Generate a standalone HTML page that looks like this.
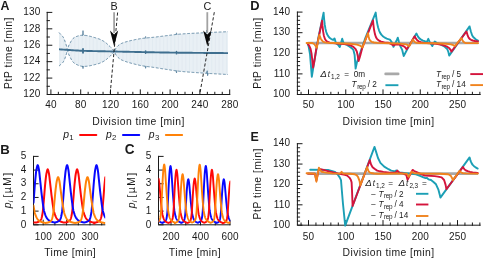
<!DOCTYPE html>
<html><head><meta charset="utf-8"><title>figure</title>
<style>html,body{margin:0;padding:0;background:#fff;overflow:hidden}svg{display:block;will-change:transform;transform:translateZ(0)}text{font-family:"Liberation Sans",sans-serif}</style>
</head><body>
<svg width="483" height="259" viewBox="0 0 483 259">
<rect width="483" height="259" fill="#fff"/>
<path d="M47.2 12.4 L47.2 94.5 L229.7 94.5 M50.9 94.5 v-4.6 M80.7 94.5 v-4.6 M110.5 94.5 v-4.6 M140.3 94.5 v-4.6 M170.1 94.5 v-4.6 M199.9 94.5 v-4.6 M229.7 94.5 v-4.6 M58.35 94.5 v-2.2 M65.8 94.5 v-2.2 M73.25 94.5 v-2.2 M88.15 94.5 v-2.2 M95.6 94.5 v-2.2 M103.05 94.5 v-2.2 M117.95 94.5 v-2.2 M125.4 94.5 v-2.2 M132.85 94.5 v-2.2 M147.75 94.5 v-2.2 M155.2 94.5 v-2.2 M162.65 94.5 v-2.2 M177.55 94.5 v-2.2 M185 94.5 v-2.2 M192.45 94.5 v-2.2 M207.35 94.5 v-2.2 M214.8 94.5 v-2.2 M222.25 94.5 v-2.2 M47.2 94.5 h4.6 M47.2 78.08 h4.6 M47.2 61.66 h4.6 M47.2 45.24 h4.6 M47.2 28.82 h4.6 M47.2 12.4 h4.6 M47.2 86.29 h2.2 M47.2 69.87 h2.2 M47.2 53.45 h2.2 M47.2 37.03 h2.2 M47.2 20.61 h2.2" fill="none" stroke="#1a1a1a" stroke-width="1" stroke-linecap="square"/>
<path d="M33.5 156.4 L33.5 224.8 L104.8 224.8 M43.2 224.8 v-4.6 M66.6 224.8 v-4.6 M90 224.8 v-4.6 M54.9 224.8 v-2.2 M78.3 224.8 v-2.2 M101.7 224.8 v-2.2 M33.5 224.8 h4.6 M33.5 211.12 h4.6 M33.5 197.44 h4.6 M33.5 183.76 h4.6 M33.5 170.08 h4.6 M33.5 156.4 h4.6" fill="none" stroke="#1a1a1a" stroke-width="1" stroke-linecap="square"/>
<path d="M158.5 156.4 L158.5 224.8 L229.9 224.8 M171 224.8 v-4.6 M200.5 224.8 v-4.6 M230 224.8 v-4.6 M185.75 224.8 v-2.2 M215.25 224.8 v-2.2 M158.5 224.8 h4.6 M158.5 211.12 h4.6 M158.5 197.44 h4.6 M158.5 183.76 h4.6 M158.5 170.08 h4.6 M158.5 156.4 h4.6" fill="none" stroke="#1a1a1a" stroke-width="1" stroke-linecap="square"/>
<path d="M297.4 12.1 L297.4 94.5 L480.1 94.5 M308.5 94.5 v-4.6 M345.75 94.5 v-4.6 M383 94.5 v-4.6 M420.25 94.5 v-4.6 M457.5 94.5 v-4.6 M301.05 94.5 v-2.2 M315.95 94.5 v-2.2 M323.4 94.5 v-2.2 M330.85 94.5 v-2.2 M338.3 94.5 v-2.2 M353.2 94.5 v-2.2 M360.65 94.5 v-2.2 M368.1 94.5 v-2.2 M375.55 94.5 v-2.2 M390.45 94.5 v-2.2 M397.9 94.5 v-2.2 M405.35 94.5 v-2.2 M412.8 94.5 v-2.2 M427.7 94.5 v-2.2 M435.15 94.5 v-2.2 M442.6 94.5 v-2.2 M450.05 94.5 v-2.2 M464.95 94.5 v-2.2 M472.4 94.5 v-2.2 M479.85 94.5 v-2.2 M297.4 94.5 h4.6 M297.4 73.9 h4.6 M297.4 53.3 h4.6 M297.4 32.7 h4.6 M297.4 12.1 h4.6 M297.4 90.38 h2.2 M297.4 86.26 h2.2 M297.4 82.14 h2.2 M297.4 78.02 h2.2 M297.4 69.78 h2.2 M297.4 65.66 h2.2 M297.4 61.54 h2.2 M297.4 57.42 h2.2 M297.4 49.18 h2.2 M297.4 45.06 h2.2 M297.4 40.94 h2.2 M297.4 36.82 h2.2 M297.4 28.58 h2.2 M297.4 24.46 h2.2 M297.4 20.34 h2.2 M297.4 16.22 h2.2" fill="none" stroke="#1a1a1a" stroke-width="1" stroke-linecap="square"/>
<path d="M297.4 143.7 L297.4 225.2 L480.1 225.2 M308.5 225.2 v-4.6 M345.75 225.2 v-4.6 M383 225.2 v-4.6 M420.25 225.2 v-4.6 M457.5 225.2 v-4.6 M301.05 225.2 v-2.2 M315.95 225.2 v-2.2 M323.4 225.2 v-2.2 M330.85 225.2 v-2.2 M338.3 225.2 v-2.2 M353.2 225.2 v-2.2 M360.65 225.2 v-2.2 M368.1 225.2 v-2.2 M375.55 225.2 v-2.2 M390.45 225.2 v-2.2 M397.9 225.2 v-2.2 M405.35 225.2 v-2.2 M412.8 225.2 v-2.2 M427.7 225.2 v-2.2 M435.15 225.2 v-2.2 M442.6 225.2 v-2.2 M450.05 225.2 v-2.2 M464.95 225.2 v-2.2 M472.4 225.2 v-2.2 M479.85 225.2 v-2.2 M297.4 225.2 h4.6 M297.4 204.82 h4.6 M297.4 184.45 h4.6 M297.4 164.07 h4.6 M297.4 143.7 h4.6 M297.4 221.12 h2.2 M297.4 217.05 h2.2 M297.4 212.97 h2.2 M297.4 208.9 h2.2 M297.4 200.75 h2.2 M297.4 196.67 h2.2 M297.4 192.6 h2.2 M297.4 188.52 h2.2 M297.4 180.38 h2.2 M297.4 176.3 h2.2 M297.4 172.22 h2.2 M297.4 168.15 h2.2 M297.4 160 h2.2 M297.4 155.92 h2.2 M297.4 151.85 h2.2 M297.4 147.77 h2.2" fill="none" stroke="#1a1a1a" stroke-width="1" stroke-linecap="square"/>
<path d="M59 32.5 L59.5 33.04 L60 33.58 L60.5 34.11 L61 34.65 L61.5 35.17 L62 35.69 L62.5 36.28 L63 36.93 L63.5 37.7 L64 38.66 L64.5 39.89 L65 41.29 L65.5 42.77 L66 44.37 L66.5 46.17 L67 48.16 L67.4 49.9 L67.5 49.49 L68 47.58 L68.5 46.12 L69 45.06 L69.5 44.18 L70 43.28 L70.5 42.32 L71 41.39 L71.5 40.57 L72 39.84 L72.5 39.16 L73 38.58 L73.5 38.12 L74 37.73 L74.5 37.39 L75 37.11 L75.5 36.87 L76 36.67 L76.5 36.49 L77 36.33 L77.5 36.17 L78 36 L78.5 35.84 L79 35.69 L79.5 35.57 L80 35.48 L80.5 35.4 L81 35.33 L81.5 35.27 L82 35.22 L82.5 35.2 L83 35.2 L83.5 35.22 L84 35.26 L84.5 35.31 L85 35.36 L85.5 35.42 L86 35.49 L86.5 35.56 L87 35.63 L87.5 35.7 L88 35.8 L88.5 35.9 L89 36.02 L89.5 36.15 L90 36.27 L90.5 36.4 L91 36.53 L91.5 36.66 L92 36.8 L92.5 36.94 L93 37.08 L93.5 37.23 L94 37.38 L94.5 37.53 L95 37.68 L95.5 37.84 L96 37.99 L96.5 38.14 L97 38.29 L97.5 38.45 L98 38.61 L98.5 38.78 L99 38.95 L99.5 39.14 L100 39.34 L100.5 39.57 L101 39.8 L101.5 40.06 L102 40.32 L102.5 40.6 L103 40.88 L103.5 41.18 L104 41.49 L104.5 41.82 L105 42.17 L105.5 42.53 L106 42.91 L106.5 43.33 L107 43.78 L107.5 44.25 L108 44.72 L108.5 45.17 L109 45.61 L109.5 46.05 L110 46.51 L110.5 47.02 L111 47.55 L111.5 48.1 L112 48.65 L112.5 49.21 L113 49.79 L113.5 50.41 L114 51.08 L114.3 51.5 L114.5 51.02 L115 49.92 L115.5 48.97 L116 48.14 L116.5 47.43 L117 46.8 L117.5 46.27 L118 45.78 L118.5 45.33 L119 44.91 L119.5 44.54 L120 44.22 L120.5 43.94 L121 43.68 L121.5 43.44 L122 43.22 L122.5 43.01 L123 42.82 L123.5 42.64 L124 42.46 L124.5 42.29 L125 42.13 L125.5 41.97 L126 41.82 L126.5 41.68 L127 41.54 L127.5 41.41 L128 41.28 L128.5 41.15 L129 41.03 L129.5 40.9 L130 40.79 L130.5 40.67 L131 40.55 L131.5 40.44 L132 40.32 L132.5 40.21 L133 40.1 L133.5 39.99 L134 39.88 L134.5 39.77 L135 39.67 L135.5 39.57 L136 39.46 L136.5 39.37 L137 39.27 L137.5 39.17 L138 39.08 L138.5 38.99 L139 38.9 L139.5 38.82 L140 38.74 L140.5 38.66 L141 38.58 L141.5 38.51 L142 38.44 L142.5 38.37 L143 38.31 L143.5 38.24 L144 38.18 L144.5 38.13 L145 38.07 L145.5 38.02 L146 37.97 L146.5 37.92 L147 37.87 L147.5 37.82 L148 37.78 L148.5 37.73 L149 37.69 L149.5 37.64 L150 37.6 L150.5 37.55 L151 37.51 L151.5 37.46 L152 37.41 L152.5 37.37 L153 37.32 L153.5 37.26 L154 37.21 L154.5 37.16 L155 37.1 L155.5 37.04 L156 36.98 L156.5 36.92 L157 36.86 L157.5 36.8 L158 36.74 L158.5 36.67 L159 36.61 L159.5 36.55 L160 36.48 L160.5 36.42 L161 36.35 L161.5 36.29 L162 36.22 L162.5 36.16 L163 36.1 L163.5 36.03 L164 35.97 L164.5 35.91 L165 35.85 L165.5 35.79 L166 35.73 L166.5 35.66 L167 35.6 L167.5 35.54 L168 35.47 L168.5 35.41 L169 35.34 L169.5 35.28 L170 35.21 L170.5 35.15 L171 35.08 L171.5 35.02 L172 34.96 L172.5 34.89 L173 34.83 L173.5 34.77 L174 34.71 L174.5 34.65 L175 34.59 L175.5 34.54 L176 34.48 L176.5 34.43 L177 34.38 L177.5 34.32 L178 34.28 L178.5 34.23 L179 34.18 L179.5 34.14 L180 34.1 L180.5 34.06 L181 34.02 L181.5 33.98 L182 33.95 L182.5 33.91 L183 33.88 L183.5 33.84 L184 33.81 L184.5 33.77 L185 33.74 L185.5 33.71 L186 33.67 L186.5 33.64 L187 33.61 L187.5 33.58 L188 33.55 L188.5 33.52 L189 33.49 L189.5 33.46 L190 33.44 L190.5 33.41 L191 33.38 L191.5 33.35 L192 33.33 L192.5 33.3 L193 33.27 L193.5 33.25 L194 33.22 L194.5 33.2 L195 33.17 L195.5 33.15 L196 33.12 L196.5 33.1 L197 33.08 L197.5 33.05 L198 33.03 L198.5 33 L199 32.98 L199.5 32.96 L200 32.93 L200.5 32.91 L201 32.89 L201.5 32.86 L202 32.84 L202.5 32.82 L203 32.79 L203.5 32.77 L204 32.75 L204.5 32.72 L205 32.7 L205.5 32.67 L206 32.65 L206.5 32.63 L207 32.6 L207.5 32.58 L208 32.55 L208.5 32.53 L209 32.51 L209.5 32.48 L210 32.46 L210.5 32.44 L211 32.41 L211.5 32.39 L212 32.37 L212.5 32.35 L213 32.32 L213.5 32.3 L214 32.28 L214.5 32.26 L215 32.23 L215.5 32.21 L216 32.19 L216.5 32.17 L217 32.15 L217.5 32.13 L218 32.1 L218.5 32.08 L219 32.06 L219.5 32.04 L220 32.02 L220.5 32 L221 31.98 L221.5 31.96 L222 31.94 L222.5 31.92 L223 31.89 L223.5 31.87 L224 31.85 L224.5 31.83 L225 31.81 L225.5 31.79 L226 31.78 L226.5 31.76 L227 31.74 L227.5 31.72 L228 31.7 L228 74.5 L227.5 74.47 L227 74.45 L226.5 74.43 L226 74.4 L225.5 74.38 L225 74.35 L224.5 74.33 L224 74.3 L223.5 74.27 L223 74.25 L222.5 74.22 L222 74.2 L221.5 74.17 L221 74.14 L220.5 74.12 L220 74.09 L219.5 74.06 L219 74.03 L218.5 74.01 L218 73.98 L217.5 73.95 L217 73.92 L216.5 73.89 L216 73.86 L215.5 73.83 L215 73.81 L214.5 73.78 L214 73.75 L213.5 73.72 L213 73.69 L212.5 73.66 L212 73.63 L211.5 73.6 L211 73.57 L210.5 73.54 L210 73.5 L209.5 73.47 L209 73.44 L208.5 73.41 L208 73.38 L207.5 73.35 L207 73.31 L206.5 73.28 L206 73.25 L205.5 73.22 L205 73.19 L204.5 73.15 L204 73.12 L203.5 73.09 L203 73.06 L202.5 73.02 L202 72.99 L201.5 72.96 L201 72.93 L200.5 72.9 L200 72.86 L199.5 72.83 L199 72.8 L198.5 72.76 L198 72.73 L197.5 72.7 L197 72.67 L196.5 72.63 L196 72.6 L195.5 72.56 L195 72.53 L194.5 72.49 L194 72.46 L193.5 72.42 L193 72.39 L192.5 72.35 L192 72.32 L191.5 72.28 L191 72.24 L190.5 72.21 L190 72.17 L189.5 72.13 L189 72.09 L188.5 72.05 L188 72.01 L187.5 71.97 L187 71.93 L186.5 71.89 L186 71.85 L185.5 71.81 L185 71.76 L184.5 71.72 L184 71.68 L183.5 71.63 L183 71.59 L182.5 71.54 L182 71.49 L181.5 71.45 L181 71.4 L180.5 71.35 L180 71.3 L179.5 71.25 L179 71.2 L178.5 71.14 L178 71.08 L177.5 71.02 L177 70.96 L176.5 70.89 L176 70.83 L175.5 70.76 L175 70.69 L174.5 70.62 L174 70.55 L173.5 70.48 L173 70.4 L172.5 70.33 L172 70.25 L171.5 70.18 L171 70.1 L170.5 70.02 L170 69.94 L169.5 69.86 L169 69.79 L168.5 69.71 L168 69.63 L167.5 69.55 L167 69.47 L166.5 69.39 L166 69.31 L165.5 69.24 L165 69.16 L164.5 69.08 L164 69.01 L163.5 68.93 L163 68.85 L162.5 68.77 L162 68.69 L161.5 68.61 L161 68.53 L160.5 68.45 L160 68.37 L159.5 68.29 L159 68.21 L158.5 68.13 L158 68.05 L157.5 67.97 L157 67.89 L156.5 67.81 L156 67.73 L155.5 67.66 L155 67.58 L154.5 67.51 L154 67.43 L153.5 67.36 L153 67.29 L152.5 67.23 L152 67.16 L151.5 67.09 L151 67.03 L150.5 66.96 L150 66.9 L149.5 66.84 L149 66.77 L148.5 66.71 L148 66.64 L147.5 66.58 L147 66.51 L146.5 66.44 L146 66.37 L145.5 66.3 L145 66.23 L144.5 66.15 L144 66.08 L143.5 66 L143 65.92 L142.5 65.83 L142 65.74 L141.5 65.65 L141 65.56 L140.5 65.46 L140 65.36 L139.5 65.26 L139 65.15 L138.5 65.04 L138 64.93 L137.5 64.82 L137 64.7 L136.5 64.59 L136 64.47 L135.5 64.34 L135 64.22 L134.5 64.09 L134 63.97 L133.5 63.84 L133 63.71 L132.5 63.57 L132 63.44 L131.5 63.3 L131 63.17 L130.5 63.03 L130 62.89 L129.5 62.75 L129 62.61 L128.5 62.46 L128 62.31 L127.5 62.16 L127 62.01 L126.5 61.84 L126 61.68 L125.5 61.51 L125 61.33 L124.5 61.15 L124 60.96 L123.5 60.76 L123 60.55 L122.5 60.34 L122 60.11 L121.5 59.87 L121 59.61 L120.5 59.33 L120 59.02 L119.5 58.68 L119 58.29 L118.5 57.85 L118 57.38 L117.5 56.87 L117 56.31 L116.5 55.67 L116 54.94 L115.5 54.09 L115 53.11 L114.5 51.99 L114.3 51.5 L114 51.91 L113.5 52.56 L113 53.15 L112.5 53.71 L112 54.25 L111.5 54.79 L111 55.32 L110.5 55.83 L110 56.31 L109.5 56.76 L109 57.18 L108.5 57.6 L108 58.03 L107.5 58.48 L107 58.93 L106.5 59.36 L106 59.76 L105.5 60.13 L105 60.47 L104.5 60.8 L104 61.11 L103.5 61.4 L103 61.68 L102.5 61.95 L102 62.21 L101.5 62.45 L101 62.69 L100.5 62.91 L100 63.11 L99.5 63.29 L99 63.46 L98.5 63.62 L98 63.77 L97.5 63.91 L97 64.04 L96.5 64.17 L96 64.3 L95.5 64.44 L95 64.57 L94.5 64.7 L94 64.83 L93.5 64.96 L93 65.08 L92.5 65.2 L92 65.32 L91.5 65.43 L91 65.53 L90.5 65.64 L90 65.74 L89.5 65.84 L89 65.94 L88.5 66.03 L88 66.11 L87.5 66.18 L87 66.23 L86.5 66.27 L86 66.3 L85.5 66.34 L85 66.37 L84.5 66.39 L84 66.41 L83.5 66.41 L83 66.4 L82.5 66.37 L82 66.3 L81.5 66.22 L81 66.11 L80.5 66 L80 65.88 L79.5 65.74 L79 65.56 L78.5 65.36 L78 65.14 L77.5 64.92 L77 64.7 L76.5 64.48 L76 64.25 L75.5 63.98 L75 63.68 L74.5 63.34 L74 62.94 L73.5 62.49 L73 61.96 L72.5 61.31 L72 60.57 L71.5 59.77 L71 58.88 L70.5 57.89 L70 56.87 L69.5 55.9 L69 54.95 L68.5 53.83 L68 52.3 L67.5 50.33 L67.4 49.9 L67 51.58 L66.5 53.51 L66 55.24 L65.5 56.77 L65 58.19 L64.5 59.52 L64 60.68 L63.5 61.57 L63 62.26 L62.5 62.84 L62 63.36 L61.5 63.81 L61 64.25 L60.5 64.71 L60 65.18 L59.5 65.64 L59 66.1 Z" fill="#e9f0f5" stroke="none"/>
<clipPath id="envclip"><path d="M59 32.5 L59.5 33.04 L60 33.58 L60.5 34.11 L61 34.65 L61.5 35.17 L62 35.69 L62.5 36.28 L63 36.93 L63.5 37.7 L64 38.66 L64.5 39.89 L65 41.29 L65.5 42.77 L66 44.37 L66.5 46.17 L67 48.16 L67.4 49.9 L67.5 49.49 L68 47.58 L68.5 46.12 L69 45.06 L69.5 44.18 L70 43.28 L70.5 42.32 L71 41.39 L71.5 40.57 L72 39.84 L72.5 39.16 L73 38.58 L73.5 38.12 L74 37.73 L74.5 37.39 L75 37.11 L75.5 36.87 L76 36.67 L76.5 36.49 L77 36.33 L77.5 36.17 L78 36 L78.5 35.84 L79 35.69 L79.5 35.57 L80 35.48 L80.5 35.4 L81 35.33 L81.5 35.27 L82 35.22 L82.5 35.2 L83 35.2 L83.5 35.22 L84 35.26 L84.5 35.31 L85 35.36 L85.5 35.42 L86 35.49 L86.5 35.56 L87 35.63 L87.5 35.7 L88 35.8 L88.5 35.9 L89 36.02 L89.5 36.15 L90 36.27 L90.5 36.4 L91 36.53 L91.5 36.66 L92 36.8 L92.5 36.94 L93 37.08 L93.5 37.23 L94 37.38 L94.5 37.53 L95 37.68 L95.5 37.84 L96 37.99 L96.5 38.14 L97 38.29 L97.5 38.45 L98 38.61 L98.5 38.78 L99 38.95 L99.5 39.14 L100 39.34 L100.5 39.57 L101 39.8 L101.5 40.06 L102 40.32 L102.5 40.6 L103 40.88 L103.5 41.18 L104 41.49 L104.5 41.82 L105 42.17 L105.5 42.53 L106 42.91 L106.5 43.33 L107 43.78 L107.5 44.25 L108 44.72 L108.5 45.17 L109 45.61 L109.5 46.05 L110 46.51 L110.5 47.02 L111 47.55 L111.5 48.1 L112 48.65 L112.5 49.21 L113 49.79 L113.5 50.41 L114 51.08 L114.3 51.5 L114.5 51.02 L115 49.92 L115.5 48.97 L116 48.14 L116.5 47.43 L117 46.8 L117.5 46.27 L118 45.78 L118.5 45.33 L119 44.91 L119.5 44.54 L120 44.22 L120.5 43.94 L121 43.68 L121.5 43.44 L122 43.22 L122.5 43.01 L123 42.82 L123.5 42.64 L124 42.46 L124.5 42.29 L125 42.13 L125.5 41.97 L126 41.82 L126.5 41.68 L127 41.54 L127.5 41.41 L128 41.28 L128.5 41.15 L129 41.03 L129.5 40.9 L130 40.79 L130.5 40.67 L131 40.55 L131.5 40.44 L132 40.32 L132.5 40.21 L133 40.1 L133.5 39.99 L134 39.88 L134.5 39.77 L135 39.67 L135.5 39.57 L136 39.46 L136.5 39.37 L137 39.27 L137.5 39.17 L138 39.08 L138.5 38.99 L139 38.9 L139.5 38.82 L140 38.74 L140.5 38.66 L141 38.58 L141.5 38.51 L142 38.44 L142.5 38.37 L143 38.31 L143.5 38.24 L144 38.18 L144.5 38.13 L145 38.07 L145.5 38.02 L146 37.97 L146.5 37.92 L147 37.87 L147.5 37.82 L148 37.78 L148.5 37.73 L149 37.69 L149.5 37.64 L150 37.6 L150.5 37.55 L151 37.51 L151.5 37.46 L152 37.41 L152.5 37.37 L153 37.32 L153.5 37.26 L154 37.21 L154.5 37.16 L155 37.1 L155.5 37.04 L156 36.98 L156.5 36.92 L157 36.86 L157.5 36.8 L158 36.74 L158.5 36.67 L159 36.61 L159.5 36.55 L160 36.48 L160.5 36.42 L161 36.35 L161.5 36.29 L162 36.22 L162.5 36.16 L163 36.1 L163.5 36.03 L164 35.97 L164.5 35.91 L165 35.85 L165.5 35.79 L166 35.73 L166.5 35.66 L167 35.6 L167.5 35.54 L168 35.47 L168.5 35.41 L169 35.34 L169.5 35.28 L170 35.21 L170.5 35.15 L171 35.08 L171.5 35.02 L172 34.96 L172.5 34.89 L173 34.83 L173.5 34.77 L174 34.71 L174.5 34.65 L175 34.59 L175.5 34.54 L176 34.48 L176.5 34.43 L177 34.38 L177.5 34.32 L178 34.28 L178.5 34.23 L179 34.18 L179.5 34.14 L180 34.1 L180.5 34.06 L181 34.02 L181.5 33.98 L182 33.95 L182.5 33.91 L183 33.88 L183.5 33.84 L184 33.81 L184.5 33.77 L185 33.74 L185.5 33.71 L186 33.67 L186.5 33.64 L187 33.61 L187.5 33.58 L188 33.55 L188.5 33.52 L189 33.49 L189.5 33.46 L190 33.44 L190.5 33.41 L191 33.38 L191.5 33.35 L192 33.33 L192.5 33.3 L193 33.27 L193.5 33.25 L194 33.22 L194.5 33.2 L195 33.17 L195.5 33.15 L196 33.12 L196.5 33.1 L197 33.08 L197.5 33.05 L198 33.03 L198.5 33 L199 32.98 L199.5 32.96 L200 32.93 L200.5 32.91 L201 32.89 L201.5 32.86 L202 32.84 L202.5 32.82 L203 32.79 L203.5 32.77 L204 32.75 L204.5 32.72 L205 32.7 L205.5 32.67 L206 32.65 L206.5 32.63 L207 32.6 L207.5 32.58 L208 32.55 L208.5 32.53 L209 32.51 L209.5 32.48 L210 32.46 L210.5 32.44 L211 32.41 L211.5 32.39 L212 32.37 L212.5 32.35 L213 32.32 L213.5 32.3 L214 32.28 L214.5 32.26 L215 32.23 L215.5 32.21 L216 32.19 L216.5 32.17 L217 32.15 L217.5 32.13 L218 32.1 L218.5 32.08 L219 32.06 L219.5 32.04 L220 32.02 L220.5 32 L221 31.98 L221.5 31.96 L222 31.94 L222.5 31.92 L223 31.89 L223.5 31.87 L224 31.85 L224.5 31.83 L225 31.81 L225.5 31.79 L226 31.78 L226.5 31.76 L227 31.74 L227.5 31.72 L228 31.7 L228 74.5 L227.5 74.47 L227 74.45 L226.5 74.43 L226 74.4 L225.5 74.38 L225 74.35 L224.5 74.33 L224 74.3 L223.5 74.27 L223 74.25 L222.5 74.22 L222 74.2 L221.5 74.17 L221 74.14 L220.5 74.12 L220 74.09 L219.5 74.06 L219 74.03 L218.5 74.01 L218 73.98 L217.5 73.95 L217 73.92 L216.5 73.89 L216 73.86 L215.5 73.83 L215 73.81 L214.5 73.78 L214 73.75 L213.5 73.72 L213 73.69 L212.5 73.66 L212 73.63 L211.5 73.6 L211 73.57 L210.5 73.54 L210 73.5 L209.5 73.47 L209 73.44 L208.5 73.41 L208 73.38 L207.5 73.35 L207 73.31 L206.5 73.28 L206 73.25 L205.5 73.22 L205 73.19 L204.5 73.15 L204 73.12 L203.5 73.09 L203 73.06 L202.5 73.02 L202 72.99 L201.5 72.96 L201 72.93 L200.5 72.9 L200 72.86 L199.5 72.83 L199 72.8 L198.5 72.76 L198 72.73 L197.5 72.7 L197 72.67 L196.5 72.63 L196 72.6 L195.5 72.56 L195 72.53 L194.5 72.49 L194 72.46 L193.5 72.42 L193 72.39 L192.5 72.35 L192 72.32 L191.5 72.28 L191 72.24 L190.5 72.21 L190 72.17 L189.5 72.13 L189 72.09 L188.5 72.05 L188 72.01 L187.5 71.97 L187 71.93 L186.5 71.89 L186 71.85 L185.5 71.81 L185 71.76 L184.5 71.72 L184 71.68 L183.5 71.63 L183 71.59 L182.5 71.54 L182 71.49 L181.5 71.45 L181 71.4 L180.5 71.35 L180 71.3 L179.5 71.25 L179 71.2 L178.5 71.14 L178 71.08 L177.5 71.02 L177 70.96 L176.5 70.89 L176 70.83 L175.5 70.76 L175 70.69 L174.5 70.62 L174 70.55 L173.5 70.48 L173 70.4 L172.5 70.33 L172 70.25 L171.5 70.18 L171 70.1 L170.5 70.02 L170 69.94 L169.5 69.86 L169 69.79 L168.5 69.71 L168 69.63 L167.5 69.55 L167 69.47 L166.5 69.39 L166 69.31 L165.5 69.24 L165 69.16 L164.5 69.08 L164 69.01 L163.5 68.93 L163 68.85 L162.5 68.77 L162 68.69 L161.5 68.61 L161 68.53 L160.5 68.45 L160 68.37 L159.5 68.29 L159 68.21 L158.5 68.13 L158 68.05 L157.5 67.97 L157 67.89 L156.5 67.81 L156 67.73 L155.5 67.66 L155 67.58 L154.5 67.51 L154 67.43 L153.5 67.36 L153 67.29 L152.5 67.23 L152 67.16 L151.5 67.09 L151 67.03 L150.5 66.96 L150 66.9 L149.5 66.84 L149 66.77 L148.5 66.71 L148 66.64 L147.5 66.58 L147 66.51 L146.5 66.44 L146 66.37 L145.5 66.3 L145 66.23 L144.5 66.15 L144 66.08 L143.5 66 L143 65.92 L142.5 65.83 L142 65.74 L141.5 65.65 L141 65.56 L140.5 65.46 L140 65.36 L139.5 65.26 L139 65.15 L138.5 65.04 L138 64.93 L137.5 64.82 L137 64.7 L136.5 64.59 L136 64.47 L135.5 64.34 L135 64.22 L134.5 64.09 L134 63.97 L133.5 63.84 L133 63.71 L132.5 63.57 L132 63.44 L131.5 63.3 L131 63.17 L130.5 63.03 L130 62.89 L129.5 62.75 L129 62.61 L128.5 62.46 L128 62.31 L127.5 62.16 L127 62.01 L126.5 61.84 L126 61.68 L125.5 61.51 L125 61.33 L124.5 61.15 L124 60.96 L123.5 60.76 L123 60.55 L122.5 60.34 L122 60.11 L121.5 59.87 L121 59.61 L120.5 59.33 L120 59.02 L119.5 58.68 L119 58.29 L118.5 57.85 L118 57.38 L117.5 56.87 L117 56.31 L116.5 55.67 L116 54.94 L115.5 54.09 L115 53.11 L114.5 51.99 L114.3 51.5 L114 51.91 L113.5 52.56 L113 53.15 L112.5 53.71 L112 54.25 L111.5 54.79 L111 55.32 L110.5 55.83 L110 56.31 L109.5 56.76 L109 57.18 L108.5 57.6 L108 58.03 L107.5 58.48 L107 58.93 L106.5 59.36 L106 59.76 L105.5 60.13 L105 60.47 L104.5 60.8 L104 61.11 L103.5 61.4 L103 61.68 L102.5 61.95 L102 62.21 L101.5 62.45 L101 62.69 L100.5 62.91 L100 63.11 L99.5 63.29 L99 63.46 L98.5 63.62 L98 63.77 L97.5 63.91 L97 64.04 L96.5 64.17 L96 64.3 L95.5 64.44 L95 64.57 L94.5 64.7 L94 64.83 L93.5 64.96 L93 65.08 L92.5 65.2 L92 65.32 L91.5 65.43 L91 65.53 L90.5 65.64 L90 65.74 L89.5 65.84 L89 65.94 L88.5 66.03 L88 66.11 L87.5 66.18 L87 66.23 L86.5 66.27 L86 66.3 L85.5 66.34 L85 66.37 L84.5 66.39 L84 66.41 L83.5 66.41 L83 66.4 L82.5 66.37 L82 66.3 L81.5 66.22 L81 66.11 L80.5 66 L80 65.88 L79.5 65.74 L79 65.56 L78.5 65.36 L78 65.14 L77.5 64.92 L77 64.7 L76.5 64.48 L76 64.25 L75.5 63.98 L75 63.68 L74.5 63.34 L74 62.94 L73.5 62.49 L73 61.96 L72.5 61.31 L72 60.57 L71.5 59.77 L71 58.88 L70.5 57.89 L70 56.87 L69.5 55.9 L69 54.95 L68.5 53.83 L68 52.3 L67.5 50.33 L67.4 49.9 L67 51.58 L66.5 53.51 L66 55.24 L65.5 56.77 L65 58.19 L64.5 59.52 L64 60.68 L63.5 61.57 L63 62.26 L62.5 62.84 L62 63.36 L61.5 63.81 L61 64.25 L60.5 64.71 L60 65.18 L59.5 65.64 L59 66.1 Z"/></clipPath>
<path d="M60 30 V76 M63.7 30 V76 M67.4 30 V76 M71.1 30 V76 M74.8 30 V76 M78.5 30 V76 M82.2 30 V76 M85.9 30 V76 M89.6 30 V76 M93.3 30 V76 M97 30 V76 M100.7 30 V76 M104.4 30 V76 M108.1 30 V76 M111.8 30 V76 M115.5 30 V76 M119.2 30 V76 M122.9 30 V76 M126.6 30 V76 M130.3 30 V76 M134 30 V76 M137.7 30 V76 M141.4 30 V76 M145.1 30 V76 M148.8 30 V76 M152.5 30 V76 M156.2 30 V76 M159.9 30 V76 M163.6 30 V76 M167.3 30 V76 M171 30 V76 M174.7 30 V76 M178.4 30 V76 M182.1 30 V76 M185.8 30 V76 M189.5 30 V76 M193.2 30 V76 M196.9 30 V76 M200.6 30 V76 M204.3 30 V76 M208 30 V76 M211.7 30 V76 M215.4 30 V76 M219.1 30 V76 M222.8 30 V76 M226.5 30 V76 " stroke="#dfe8ef" stroke-width="0.7" fill="none" clip-path="url(#envclip)"/>
<path d="M59 32.5 L59.5 33.04 L60 33.58 L60.5 34.11 L61 34.65 L61.5 35.17 L62 35.69 L62.5 36.28 L63 36.93 L63.5 37.7 L64 38.66 L64.5 39.89 L65 41.29 L65.5 42.77 L66 44.37 L66.5 46.17 L67 48.16 L67.4 49.9 L67.5 49.49 L68 47.58 L68.5 46.12 L69 45.06 L69.5 44.18 L70 43.28 L70.5 42.32 L71 41.39 L71.5 40.57 L72 39.84 L72.5 39.16 L73 38.58 L73.5 38.12 L74 37.73 L74.5 37.39 L75 37.11 L75.5 36.87 L76 36.67 L76.5 36.49 L77 36.33 L77.5 36.17 L78 36 L78.5 35.84 L79 35.69 L79.5 35.57 L80 35.48 L80.5 35.4 L81 35.33 L81.5 35.27 L82 35.22 L82.5 35.2 L83 35.2 L83.5 35.22 L84 35.26 L84.5 35.31 L85 35.36 L85.5 35.42 L86 35.49 L86.5 35.56 L87 35.63 L87.5 35.7 L88 35.8 L88.5 35.9 L89 36.02 L89.5 36.15 L90 36.27 L90.5 36.4 L91 36.53 L91.5 36.66 L92 36.8 L92.5 36.94 L93 37.08 L93.5 37.23 L94 37.38 L94.5 37.53 L95 37.68 L95.5 37.84 L96 37.99 L96.5 38.14 L97 38.29 L97.5 38.45 L98 38.61 L98.5 38.78 L99 38.95 L99.5 39.14 L100 39.34 L100.5 39.57 L101 39.8 L101.5 40.06 L102 40.32 L102.5 40.6 L103 40.88 L103.5 41.18 L104 41.49 L104.5 41.82 L105 42.17 L105.5 42.53 L106 42.91 L106.5 43.33 L107 43.78 L107.5 44.25 L108 44.72 L108.5 45.17 L109 45.61 L109.5 46.05 L110 46.51 L110.5 47.02 L111 47.55 L111.5 48.1 L112 48.65 L112.5 49.21 L113 49.79 L113.5 50.41 L114 51.08 L114.3 51.5 L114.5 51.02 L115 49.92 L115.5 48.97 L116 48.14 L116.5 47.43 L117 46.8 L117.5 46.27 L118 45.78 L118.5 45.33 L119 44.91 L119.5 44.54 L120 44.22 L120.5 43.94 L121 43.68 L121.5 43.44 L122 43.22 L122.5 43.01 L123 42.82 L123.5 42.64 L124 42.46 L124.5 42.29 L125 42.13 L125.5 41.97 L126 41.82 L126.5 41.68 L127 41.54 L127.5 41.41 L128 41.28 L128.5 41.15 L129 41.03 L129.5 40.9 L130 40.79 L130.5 40.67 L131 40.55 L131.5 40.44 L132 40.32 L132.5 40.21 L133 40.1 L133.5 39.99 L134 39.88 L134.5 39.77 L135 39.67 L135.5 39.57 L136 39.46 L136.5 39.37 L137 39.27 L137.5 39.17 L138 39.08 L138.5 38.99 L139 38.9 L139.5 38.82 L140 38.74 L140.5 38.66 L141 38.58 L141.5 38.51 L142 38.44 L142.5 38.37 L143 38.31 L143.5 38.24 L144 38.18 L144.5 38.13 L145 38.07 L145.5 38.02 L146 37.97 L146.5 37.92 L147 37.87 L147.5 37.82 L148 37.78 L148.5 37.73 L149 37.69 L149.5 37.64 L150 37.6 L150.5 37.55 L151 37.51 L151.5 37.46 L152 37.41 L152.5 37.37 L153 37.32 L153.5 37.26 L154 37.21 L154.5 37.16 L155 37.1 L155.5 37.04 L156 36.98 L156.5 36.92 L157 36.86 L157.5 36.8 L158 36.74 L158.5 36.67 L159 36.61 L159.5 36.55 L160 36.48 L160.5 36.42 L161 36.35 L161.5 36.29 L162 36.22 L162.5 36.16 L163 36.1 L163.5 36.03 L164 35.97 L164.5 35.91 L165 35.85 L165.5 35.79 L166 35.73 L166.5 35.66 L167 35.6 L167.5 35.54 L168 35.47 L168.5 35.41 L169 35.34 L169.5 35.28 L170 35.21 L170.5 35.15 L171 35.08 L171.5 35.02 L172 34.96 L172.5 34.89 L173 34.83 L173.5 34.77 L174 34.71 L174.5 34.65 L175 34.59 L175.5 34.54 L176 34.48 L176.5 34.43 L177 34.38 L177.5 34.32 L178 34.28 L178.5 34.23 L179 34.18 L179.5 34.14 L180 34.1 L180.5 34.06 L181 34.02 L181.5 33.98 L182 33.95 L182.5 33.91 L183 33.88 L183.5 33.84 L184 33.81 L184.5 33.77 L185 33.74 L185.5 33.71 L186 33.67 L186.5 33.64 L187 33.61 L187.5 33.58 L188 33.55 L188.5 33.52 L189 33.49 L189.5 33.46 L190 33.44 L190.5 33.41 L191 33.38 L191.5 33.35 L192 33.33 L192.5 33.3 L193 33.27 L193.5 33.25 L194 33.22 L194.5 33.2 L195 33.17 L195.5 33.15 L196 33.12 L196.5 33.1 L197 33.08 L197.5 33.05 L198 33.03 L198.5 33 L199 32.98 L199.5 32.96 L200 32.93 L200.5 32.91 L201 32.89 L201.5 32.86 L202 32.84 L202.5 32.82 L203 32.79 L203.5 32.77 L204 32.75 L204.5 32.72 L205 32.7 L205.5 32.67 L206 32.65 L206.5 32.63 L207 32.6 L207.5 32.58 L208 32.55 L208.5 32.53 L209 32.51 L209.5 32.48 L210 32.46 L210.5 32.44 L211 32.41 L211.5 32.39 L212 32.37 L212.5 32.35 L213 32.32 L213.5 32.3 L214 32.28 L214.5 32.26 L215 32.23 L215.5 32.21 L216 32.19 L216.5 32.17 L217 32.15 L217.5 32.13 L218 32.1 L218.5 32.08 L219 32.06 L219.5 32.04 L220 32.02 L220.5 32 L221 31.98 L221.5 31.96 L222 31.94 L222.5 31.92 L223 31.89 L223.5 31.87 L224 31.85 L224.5 31.83 L225 31.81 L225.5 31.79 L226 31.78 L226.5 31.76 L227 31.74 L227.5 31.72 L228 31.7" fill="none" stroke="#3f6f8f" stroke-width="0.75" stroke-linejoin="round" stroke-linecap="butt" stroke-dasharray="2.8 1.7"/>
<path d="M59 66.1 L59.5 65.64 L60 65.18 L60.5 64.71 L61 64.25 L61.5 63.81 L62 63.36 L62.5 62.84 L63 62.26 L63.5 61.57 L64 60.68 L64.5 59.52 L65 58.19 L65.5 56.77 L66 55.24 L66.5 53.51 L67 51.58 L67.4 49.9 L67.5 50.33 L68 52.3 L68.5 53.83 L69 54.95 L69.5 55.9 L70 56.87 L70.5 57.89 L71 58.88 L71.5 59.77 L72 60.57 L72.5 61.31 L73 61.96 L73.5 62.49 L74 62.94 L74.5 63.34 L75 63.68 L75.5 63.98 L76 64.25 L76.5 64.48 L77 64.7 L77.5 64.92 L78 65.14 L78.5 65.36 L79 65.56 L79.5 65.74 L80 65.88 L80.5 66 L81 66.11 L81.5 66.22 L82 66.3 L82.5 66.37 L83 66.4 L83.5 66.41 L84 66.41 L84.5 66.39 L85 66.37 L85.5 66.34 L86 66.3 L86.5 66.27 L87 66.23 L87.5 66.18 L88 66.11 L88.5 66.03 L89 65.94 L89.5 65.84 L90 65.74 L90.5 65.64 L91 65.53 L91.5 65.43 L92 65.32 L92.5 65.2 L93 65.08 L93.5 64.96 L94 64.83 L94.5 64.7 L95 64.57 L95.5 64.44 L96 64.3 L96.5 64.17 L97 64.04 L97.5 63.91 L98 63.77 L98.5 63.62 L99 63.46 L99.5 63.29 L100 63.11 L100.5 62.91 L101 62.69 L101.5 62.45 L102 62.21 L102.5 61.95 L103 61.68 L103.5 61.4 L104 61.11 L104.5 60.8 L105 60.47 L105.5 60.13 L106 59.76 L106.5 59.36 L107 58.93 L107.5 58.48 L108 58.03 L108.5 57.6 L109 57.18 L109.5 56.76 L110 56.31 L110.5 55.83 L111 55.32 L111.5 54.79 L112 54.25 L112.5 53.71 L113 53.15 L113.5 52.56 L114 51.91 L114.3 51.5 L114.5 51.99 L115 53.11 L115.5 54.09 L116 54.94 L116.5 55.67 L117 56.31 L117.5 56.87 L118 57.38 L118.5 57.85 L119 58.29 L119.5 58.68 L120 59.02 L120.5 59.33 L121 59.61 L121.5 59.87 L122 60.11 L122.5 60.34 L123 60.55 L123.5 60.76 L124 60.96 L124.5 61.15 L125 61.33 L125.5 61.51 L126 61.68 L126.5 61.84 L127 62.01 L127.5 62.16 L128 62.31 L128.5 62.46 L129 62.61 L129.5 62.75 L130 62.89 L130.5 63.03 L131 63.17 L131.5 63.3 L132 63.44 L132.5 63.57 L133 63.71 L133.5 63.84 L134 63.97 L134.5 64.09 L135 64.22 L135.5 64.34 L136 64.47 L136.5 64.59 L137 64.7 L137.5 64.82 L138 64.93 L138.5 65.04 L139 65.15 L139.5 65.26 L140 65.36 L140.5 65.46 L141 65.56 L141.5 65.65 L142 65.74 L142.5 65.83 L143 65.92 L143.5 66 L144 66.08 L144.5 66.15 L145 66.23 L145.5 66.3 L146 66.37 L146.5 66.44 L147 66.51 L147.5 66.58 L148 66.64 L148.5 66.71 L149 66.77 L149.5 66.84 L150 66.9 L150.5 66.96 L151 67.03 L151.5 67.09 L152 67.16 L152.5 67.23 L153 67.29 L153.5 67.36 L154 67.43 L154.5 67.51 L155 67.58 L155.5 67.66 L156 67.73 L156.5 67.81 L157 67.89 L157.5 67.97 L158 68.05 L158.5 68.13 L159 68.21 L159.5 68.29 L160 68.37 L160.5 68.45 L161 68.53 L161.5 68.61 L162 68.69 L162.5 68.77 L163 68.85 L163.5 68.93 L164 69.01 L164.5 69.08 L165 69.16 L165.5 69.24 L166 69.31 L166.5 69.39 L167 69.47 L167.5 69.55 L168 69.63 L168.5 69.71 L169 69.79 L169.5 69.86 L170 69.94 L170.5 70.02 L171 70.1 L171.5 70.18 L172 70.25 L172.5 70.33 L173 70.4 L173.5 70.48 L174 70.55 L174.5 70.62 L175 70.69 L175.5 70.76 L176 70.83 L176.5 70.89 L177 70.96 L177.5 71.02 L178 71.08 L178.5 71.14 L179 71.2 L179.5 71.25 L180 71.3 L180.5 71.35 L181 71.4 L181.5 71.45 L182 71.49 L182.5 71.54 L183 71.59 L183.5 71.63 L184 71.68 L184.5 71.72 L185 71.76 L185.5 71.81 L186 71.85 L186.5 71.89 L187 71.93 L187.5 71.97 L188 72.01 L188.5 72.05 L189 72.09 L189.5 72.13 L190 72.17 L190.5 72.21 L191 72.24 L191.5 72.28 L192 72.32 L192.5 72.35 L193 72.39 L193.5 72.42 L194 72.46 L194.5 72.49 L195 72.53 L195.5 72.56 L196 72.6 L196.5 72.63 L197 72.67 L197.5 72.7 L198 72.73 L198.5 72.76 L199 72.8 L199.5 72.83 L200 72.86 L200.5 72.9 L201 72.93 L201.5 72.96 L202 72.99 L202.5 73.02 L203 73.06 L203.5 73.09 L204 73.12 L204.5 73.15 L205 73.19 L205.5 73.22 L206 73.25 L206.5 73.28 L207 73.31 L207.5 73.35 L208 73.38 L208.5 73.41 L209 73.44 L209.5 73.47 L210 73.5 L210.5 73.54 L211 73.57 L211.5 73.6 L212 73.63 L212.5 73.66 L213 73.69 L213.5 73.72 L214 73.75 L214.5 73.78 L215 73.81 L215.5 73.83 L216 73.86 L216.5 73.89 L217 73.92 L217.5 73.95 L218 73.98 L218.5 74.01 L219 74.03 L219.5 74.06 L220 74.09 L220.5 74.12 L221 74.14 L221.5 74.17 L222 74.2 L222.5 74.22 L223 74.25 L223.5 74.27 L224 74.3 L224.5 74.33 L225 74.35 L225.5 74.38 L226 74.4 L226.5 74.43 L227 74.45 L227.5 74.47 L228 74.5" fill="none" stroke="#3f6f8f" stroke-width="0.75" stroke-linejoin="round" stroke-linecap="butt" stroke-dasharray="2.8 1.7"/>
<path d="M82.6 35.2 L83 30.6 L83.3 34.2 L84.2 35.28" fill="none" stroke="#3f6f8f" stroke-width="0.7" stroke-linejoin="round" stroke-linecap="round" />
<path d="M82.6 66.38 L83 68.6 L83.4 66.41" fill="none" stroke="#3f6f8f" stroke-width="0.7" stroke-linejoin="round" stroke-linecap="round" />
<path d="M145.2 38.01 L145.6 36.41 L146.1 38.01" fill="none" stroke="#3f6f8f" stroke-width="0.6" stroke-linejoin="round" stroke-linecap="round" />
<path d="M145.2 66.32 L145.6 68.32 L146.1 66.32" fill="none" stroke="#3f6f8f" stroke-width="0.7" stroke-linejoin="round" stroke-linecap="round" />
<path d="M176.1 34.43 L176.5 32.83 L177 34.43" fill="none" stroke="#3f6f8f" stroke-width="0.6" stroke-linejoin="round" stroke-linecap="round" />
<path d="M176.1 70.89 L176.5 72.89 L177 70.89" fill="none" stroke="#3f6f8f" stroke-width="0.7" stroke-linejoin="round" stroke-linecap="round" />
<path d="M206.3 32.64 L206.8 30.01 L207.4 32.58" fill="none" stroke="#3f6f8f" stroke-width="0.7" stroke-linejoin="round" stroke-linecap="round" />
<path d="M206.6 72.89 L207.2 70.71 L207.6 75.71 L208.2 73.39" fill="none" stroke="#3f6f8f" stroke-width="0.7" stroke-linejoin="round" stroke-linecap="round" />
<path d="M59 49.3 L60 49.38 L61 49.45 L62 49.53 L63 49.6 L64 49.67 L65 49.74 L66 49.81 L67 49.87 L68 49.94 L69 50 L70 50.07 L71 50.14 L72 50.2 L73 50.27 L74 50.33 L75 50.4 L76 50.46 L77 50.52 L78 50.57 L79 50.63 L80 50.68 L81 50.72 L82 50.76 L83 50.8 L84 50.83 L85 50.87 L86 50.9 L87 50.93 L88 50.95 L89 50.98 L90 51.01 L91 51.03 L92 51.06 L93 51.08 L94 51.1 L95 51.12 L96 51.15 L97 51.17 L98 51.19 L99 51.21 L100 51.23 L101 51.25 L102 51.26 L103 51.28 L104 51.3 L105 51.32 L106 51.34 L107 51.36 L108 51.38 L109 51.39 L110 51.41 L111 51.43 L112 51.45 L113 51.47 L114 51.49 L115 51.51 L116 51.54 L117 51.56 L118 51.58 L119 51.6 L120 51.62 L121 51.64 L122 51.66 L123 51.69 L124 51.71 L125 51.73 L126 51.75 L127 51.77 L128 51.79 L129 51.82 L130 51.84 L131 51.86 L132 51.88 L133 51.9 L134 51.92 L135 51.94 L136 51.97 L137 51.99 L138 52.01 L139 52.03 L140 52.05 L141 52.07 L142 52.09 L143 52.11 L144 52.13 L145 52.15 L146 52.17 L147 52.19 L148 52.21 L149 52.23 L150 52.25 L151 52.27 L152 52.29 L153 52.3 L154 52.32 L155 52.34 L156 52.36 L157 52.38 L158 52.39 L159 52.41 L160 52.43 L161 52.44 L162 52.46 L163 52.48 L164 52.49 L165 52.51 L166 52.52 L167 52.54 L168 52.55 L169 52.56 L170 52.58 L171 52.59 L172 52.61 L173 52.62 L174 52.63 L175 52.64 L176 52.66 L177 52.67 L178 52.68 L179 52.69 L180 52.7 L181 52.71 L182 52.72 L183 52.73 L184 52.74 L185 52.75 L186 52.76 L187 52.77 L188 52.78 L189 52.79 L190 52.8 L191 52.81 L192 52.82 L193 52.83 L194 52.84 L195 52.85 L196 52.86 L197 52.87 L198 52.88 L199 52.89 L200 52.9 L201 52.91 L202 52.92 L203 52.92 L204 52.93 L205 52.94 L206 52.95 L207 52.96 L208 52.97 L209 52.97 L210 52.98 L211 52.99 L212 53 L213 53.01 L214 53.01 L215 53.02 L216 53.03 L217 53.03 L218 53.04 L219 53.05 L220 53.05 L221 53.06 L222 53.07 L223 53.07 L224 53.08 L225 53.08 L226 53.09 L227 53.09 L228 53.1" fill="none" stroke="#3f6f8f" stroke-width="1.9" stroke-linejoin="round" stroke-linecap="butt" />
<line x1="83" y1="48.2" x2="83" y2="53.6" stroke="#3f6f8f" stroke-width="1.8" />
<line x1="145.6" y1="50.36" x2="145.6" y2="53.96" stroke="#3f6f8f" stroke-width="1.4" />
<line x1="176.5" y1="50.86" x2="176.5" y2="54.46" stroke="#3f6f8f" stroke-width="1.4" />
<line x1="117.6" y1="12.5" x2="110.1" y2="94.5" stroke="#111" stroke-width="0.9" stroke-dasharray="3.2 2"/>
<line x1="214.3" y1="12.2" x2="199.7" y2="94.5" stroke="#111" stroke-width="0.9" stroke-dasharray="3.2 2"/>
<line x1="114.1" y1="12.2" x2="114.1" y2="33" stroke="#a2a2a2" stroke-width="1.8" />
<path d="M114.1 46.2 L110 30.5 L114.1 34.6 L118.2 30.5 Z" fill="#0a0a0a"/>
<line x1="207.3" y1="12.2" x2="207.3" y2="33" stroke="#a2a2a2" stroke-width="1.8" />
<path d="M207.3 46.2 L203.2 30.5 L207.3 34.6 L211.4 30.5 Z" fill="#0a0a0a"/>
<text x="114.1" y="9.6" font-size="10.8" text-anchor="middle" font-weight="normal" font-style="normal" fill="#1a1a1a" >B</text>
<text x="207.4" y="9.6" font-size="10.8" text-anchor="middle" font-weight="normal" font-style="normal" fill="#1a1a1a" >C</text>
<text x="51" y="108" font-size="10" text-anchor="middle" font-weight="normal" font-style="normal" fill="#1a1a1a" letter-spacing="0.2">40</text>
<text x="80.8" y="108" font-size="10" text-anchor="middle" font-weight="normal" font-style="normal" fill="#1a1a1a" letter-spacing="0.2">80</text>
<text x="110.6" y="108" font-size="10" text-anchor="middle" font-weight="normal" font-style="normal" fill="#1a1a1a" letter-spacing="0.2">120</text>
<text x="140.4" y="108" font-size="10" text-anchor="middle" font-weight="normal" font-style="normal" fill="#1a1a1a" letter-spacing="0.2">160</text>
<text x="170.2" y="108" font-size="10" text-anchor="middle" font-weight="normal" font-style="normal" fill="#1a1a1a" letter-spacing="0.2">200</text>
<text x="200" y="108" font-size="10" text-anchor="middle" font-weight="normal" font-style="normal" fill="#1a1a1a" letter-spacing="0.2">240</text>
<text x="229.8" y="108" font-size="10" text-anchor="middle" font-weight="normal" font-style="normal" fill="#1a1a1a" letter-spacing="0.2">280</text>
<text x="40.5" y="97.2" font-size="10" text-anchor="end" font-weight="normal" font-style="normal" fill="#1a1a1a" letter-spacing="0.2">120</text>
<text x="40.5" y="80.78" font-size="10" text-anchor="end" font-weight="normal" font-style="normal" fill="#1a1a1a" letter-spacing="0.2">122</text>
<text x="40.5" y="64.36" font-size="10" text-anchor="end" font-weight="normal" font-style="normal" fill="#1a1a1a" letter-spacing="0.2">124</text>
<text x="40.5" y="47.94" font-size="10" text-anchor="end" font-weight="normal" font-style="normal" fill="#1a1a1a" letter-spacing="0.2">126</text>
<text x="40.5" y="31.52" font-size="10" text-anchor="end" font-weight="normal" font-style="normal" fill="#1a1a1a" letter-spacing="0.2">128</text>
<text x="40.5" y="15.1" font-size="10" text-anchor="end" font-weight="normal" font-style="normal" fill="#1a1a1a" letter-spacing="0.2">130</text>
<text x="138.3" y="125.3" font-size="10.4" text-anchor="middle" font-weight="normal" font-style="normal" fill="#1a1a1a"  textLength="92.2" lengthAdjust="spacing">Division time [min]</text>
<text x="11.6" y="53.3" font-size="10.4" text-anchor="middle" font-weight="normal" font-style="normal" fill="#1a1a1a" transform="rotate(-90 11.6 53.3)"  textLength="71.4" lengthAdjust="spacing">PtP time [min]</text>
<text x="0.4" y="10.3" font-size="12.4" text-anchor="start" font-weight="bold" font-style="normal" fill="#1a1a1a" >A</text>
<text x="63.2" y="137.6" font-size="10.4" font-style="italic" fill="#1a1a1a">p<tspan font-size="7.8" font-style="normal" dy="1.9" dx="0.3">1</tspan></text>
<line x1="80" y1="135" x2="96.4" y2="135" stroke="#ff0808" stroke-width="1.8" stroke-linecap="round"/>
<text x="105.9" y="137.6" font-size="10.4" font-style="italic" fill="#1a1a1a">p<tspan font-size="7.8" font-style="normal" dy="1.9" dx="0.3">2</tspan></text>
<line x1="122.9" y1="135" x2="139.3" y2="135" stroke="#0808ff" stroke-width="1.8" stroke-linecap="round"/>
<text x="148.8" y="137.6" font-size="10.4" font-style="italic" fill="#1a1a1a">p<tspan font-size="7.8" font-style="normal" dy="1.9" dx="0.3">3</tspan></text>
<line x1="165.8" y1="135" x2="182.2" y2="135" stroke="#ff8208" stroke-width="1.8" stroke-linecap="round"/>
<clipPath id="clipB"><rect x="33.5" y="150" width="71.7" height="76"/></clipPath>
<g clip-path="url(#clipB)">
<path d="M33.5 222.33 L33.7 222.38 L33.9 222.42 L34.1 222.46 L34.3 222.5 L34.5 222.53 L34.7 222.55 L34.9 222.57 L35.1 222.58 L35.3 222.58 L35.5 222.58 L35.7 222.57 L35.9 222.55 L36.1 222.52 L36.3 222.49 L36.5 222.45 L36.7 222.4 L36.9 222.35 L37.1 222.29 L37.3 222.23 L37.5 222.17 L37.7 222.1 L37.9 222.02 L38.1 221.95 L38.3 221.87 L38.5 221.78 L38.7 221.7 L38.9 221.6 L39.1 221.49 L39.3 221.36 L39.5 221.22 L39.7 221.05 L39.9 220.86 L40.1 220.66 L40.3 220.43 L40.5 220.17 L40.7 219.89 L40.9 219.59 L41.1 219.26 L41.3 218.84 L41.5 218.26 L41.7 217.55 L41.9 216.71 L42.1 215.76 L42.3 214.7 L42.5 213.56 L42.7 212.33 L42.9 210.83 L43.1 208.91 L43.3 206.69 L43.5 204.29 L43.7 201.81 L43.9 199.37 L44.1 197.04 L44.3 194.57 L44.5 192.02 L44.7 189.48 L44.9 187.05 L45.1 184.81 L45.3 182.83 L45.5 180.9 L45.7 179.03 L45.9 177.28 L46.1 175.71 L46.3 174.35 L46.5 173.27 L46.7 172.35 L46.9 171.45 L47.1 170.65 L47.3 169.99 L47.5 169.56 L47.7 169.4 L47.9 169.56 L48.1 169.99 L48.3 170.65 L48.5 171.45 L48.7 172.35 L48.9 173.27 L49.1 174.39 L49.3 175.83 L49.5 177.5 L49.7 179.3 L49.9 181.15 L50.1 182.95 L50.3 184.64 L50.5 186.36 L50.7 188.12 L50.9 189.9 L51.1 191.68 L51.3 193.42 L51.5 195.1 L51.7 196.71 L51.9 198.21 L52.1 199.65 L52.3 201.11 L52.5 202.56 L52.7 203.99 L52.9 205.38 L53.1 206.72 L53.3 207.98 L53.5 209.16 L53.7 210.23 L53.9 211.17 L54.1 211.99 L54.3 212.66 L54.5 213.29 L54.7 213.89 L54.9 214.46 L55.1 215 L55.3 215.52 L55.5 216.01 L55.7 216.47 L55.9 216.9 L56.1 217.3 L56.3 217.68 L56.5 218.03 L56.7 218.35 L56.9 218.64 L57.1 218.91 L57.3 219.15 L57.5 219.37 L57.7 219.57 L57.9 219.76 L58.1 219.95 L58.3 220.13 L58.5 220.29 L58.7 220.45 L58.9 220.6 L59.1 220.74 L59.3 220.88 L59.5 221 L59.7 221.12 L59.9 221.23 L60.1 221.33 L60.3 221.42 L60.5 221.51 L60.7 221.59 L60.9 221.66 L61.1 221.74 L61.3 221.81 L61.5 221.88 L61.7 221.95 L61.9 222.02 L62.1 222.09 L62.3 222.15 L62.5 222.21 L62.7 222.27 L62.9 222.33 L63.1 222.38 L63.3 222.42 L63.5 222.46 L63.7 222.5 L63.9 222.53 L64.1 222.55 L64.3 222.57 L64.5 222.58 L64.7 222.58 L64.9 222.58 L65.1 222.57 L65.3 222.55 L65.5 222.52 L65.7 222.49 L65.9 222.45 L66.1 222.4 L66.3 222.35 L66.5 222.29 L66.7 222.23 L66.9 222.17 L67.1 222.1 L67.3 222.02 L67.5 221.95 L67.7 221.87 L67.9 221.78 L68.1 221.7 L68.3 221.6 L68.5 221.49 L68.7 221.36 L68.9 221.22 L69.1 221.05 L69.3 220.86 L69.5 220.66 L69.7 220.43 L69.9 220.17 L70.1 219.89 L70.3 219.59 L70.5 219.26 L70.7 218.84 L70.9 218.26 L71.1 217.55 L71.3 216.71 L71.5 215.76 L71.7 214.7 L71.9 213.56 L72.1 212.33 L72.3 210.83 L72.5 208.91 L72.7 206.69 L72.9 204.29 L73.1 201.81 L73.3 199.37 L73.5 197.04 L73.7 194.57 L73.9 192.02 L74.1 189.48 L74.3 187.05 L74.5 184.81 L74.7 182.83 L74.9 180.9 L75.1 179.03 L75.3 177.28 L75.5 175.71 L75.7 174.35 L75.9 173.27 L76.1 172.35 L76.3 171.45 L76.5 170.65 L76.7 169.99 L76.9 169.56 L77.1 169.4 L77.3 169.56 L77.5 169.99 L77.7 170.65 L77.9 171.45 L78.1 172.35 L78.3 173.27 L78.5 174.39 L78.7 175.83 L78.9 177.5 L79.1 179.3 L79.3 181.15 L79.5 182.95 L79.7 184.64 L79.9 186.36 L80.1 188.12 L80.3 189.9 L80.5 191.68 L80.7 193.42 L80.9 195.1 L81.1 196.71 L81.3 198.21 L81.5 199.65 L81.7 201.11 L81.9 202.56 L82.1 203.99 L82.3 205.38 L82.5 206.72 L82.7 207.98 L82.9 209.16 L83.1 210.23 L83.3 211.17 L83.5 211.99 L83.7 212.66 L83.9 213.29 L84.1 213.89 L84.3 214.46 L84.5 215 L84.7 215.52 L84.9 216.01 L85.1 216.47 L85.3 216.9 L85.5 217.3 L85.7 217.68 L85.9 218.03 L86.1 218.35 L86.3 218.64 L86.5 218.91 L86.7 219.15 L86.9 219.37 L87.1 219.57 L87.3 219.76 L87.5 219.95 L87.7 220.13 L87.9 220.29 L88.1 220.45 L88.3 220.6 L88.5 220.74 L88.7 220.88 L88.9 221 L89.1 221.12 L89.3 221.23 L89.5 221.33 L89.7 221.42 L89.9 221.51 L90.1 221.59 L90.3 221.66 L90.5 221.74 L90.7 221.81 L90.9 221.88 L91.1 221.95 L91.3 222.02 L91.5 222.09 L91.7 222.15 L91.9 222.21 L92.1 222.27 L92.3 222.33 L92.5 222.38 L92.7 222.42 L92.9 222.46 L93.1 222.5 L93.3 222.53 L93.5 222.55 L93.7 222.57 L93.9 222.58 L94.1 223.43 L94.3 223.43 L94.5 223.43 L94.7 222.58 L94.9 222.58 L95.1 222.57 L95.3 222.55 L95.5 222.52 L95.7 222.49 L95.9 222.45 L96.1 222.4 L96.3 222.35 L96.5 222.29 L96.7 222.23 L96.9 222.17 L97.1 222.1 L97.3 222.02 L97.5 221.95 L97.7 221.87 L97.9 221.78 L98.1 221.7 L98.3 221.6 L98.5 221.49 L98.7 221.36 L98.9 221.22 L99.1 221.05 L99.3 220.86 L99.5 220.66 L99.7 220.43 L99.9 220.17 L100.1 219.89 L100.3 219.59 L100.5 219.26 L100.7 218.84 L100.9 218.26 L101.1 217.55 L101.3 216.71 L101.5 215.76 L101.7 214.7 L101.9 213.56 L102.1 212.33 L102.3 210.83 L102.5 208.91 L102.7 206.69 L102.9 204.29 L103.1 201.81 L103.3 199.37 L103.5 197.04 L103.7 194.57 L103.9 192.02 L104.1 189.48 L104.3 187.05 L104.5 184.81 L104.7 182.83 L104.9 180.9 L105.1 179.03 L105.3 177.28" fill="none" stroke="#ff0808" stroke-width="2" stroke-linejoin="round" stroke-linecap="round" />
<path d="M33.5 202.72 L33.7 200.05 L33.9 197.43 L34.1 194.91 L34.3 192.26 L34.5 189.51 L34.7 186.78 L34.9 184.16 L35.1 181.75 L35.3 179.62 L35.5 177.54 L35.7 175.53 L35.9 173.65 L36.1 171.95 L36.3 170.49 L36.5 169.33 L36.7 168.33 L36.9 167.37 L37.1 166.5 L37.3 165.8 L37.5 165.33 L37.7 165.16 L37.9 165.33 L38.1 165.8 L38.3 166.5 L38.5 167.37 L38.7 168.33 L38.9 169.33 L39.1 170.53 L39.3 172.08 L39.5 173.88 L39.7 175.82 L39.9 177.81 L40.1 179.75 L40.3 181.56 L40.5 183.42 L40.7 185.31 L40.9 187.23 L41.1 189.14 L41.3 191.02 L41.5 192.83 L41.7 194.56 L41.9 196.17 L42.1 197.73 L42.3 199.3 L42.5 200.86 L42.7 202.4 L42.9 203.9 L43.1 205.33 L43.3 206.69 L43.5 207.96 L43.7 209.11 L43.9 210.13 L44.1 211 L44.3 211.73 L44.5 212.41 L44.7 213.05 L44.9 213.67 L45.1 214.25 L45.3 214.81 L45.5 215.33 L45.7 215.83 L45.9 216.29 L46.1 216.73 L46.3 217.13 L46.5 217.51 L46.7 217.85 L46.9 218.17 L47.1 218.46 L47.3 218.72 L47.5 218.95 L47.7 219.17 L47.9 219.38 L48.1 219.58 L48.3 219.77 L48.5 219.95 L48.7 220.12 L48.9 220.28 L49.1 220.43 L49.3 220.58 L49.5 220.71 L49.7 220.84 L49.9 220.95 L50.1 221.06 L50.3 221.16 L50.5 221.26 L50.7 221.34 L50.9 221.42 L51.1 221.5 L51.3 221.58 L51.5 221.66 L51.7 221.73 L51.9 221.81 L52.1 221.88 L52.3 221.95 L52.5 222.02 L52.7 222.08 L52.9 222.14 L53.1 222.19 L53.3 222.24 L53.5 222.28 L53.7 222.32 L53.9 222.35 L54.1 222.38 L54.3 222.4 L54.5 222.41 L54.7 222.41 L54.9 222.41 L55.1 222.4 L55.3 222.38 L55.5 222.35 L55.7 222.31 L55.9 222.27 L56.1 222.22 L56.3 222.16 L56.5 222.1 L56.7 222.04 L56.9 221.96 L57.1 221.89 L57.3 221.81 L57.5 221.73 L57.7 221.64 L57.9 221.55 L58.1 221.46 L58.3 221.36 L58.5 221.24 L58.7 221.1 L58.9 220.94 L59.1 220.76 L59.3 220.56 L59.5 220.34 L59.7 220.09 L59.9 219.82 L60.1 219.52 L60.3 219.19 L60.5 218.84 L60.7 218.38 L60.9 217.76 L61.1 216.99 L61.3 216.09 L61.5 215.06 L61.7 213.93 L61.9 212.7 L62.1 211.38 L62.3 209.76 L62.5 207.7 L62.7 205.31 L62.9 202.72 L63.1 200.05 L63.3 197.43 L63.5 194.91 L63.7 192.26 L63.9 189.51 L64.1 186.78 L64.3 184.16 L64.5 181.75 L64.7 179.62 L64.9 177.54 L65.1 175.53 L65.3 173.65 L65.5 171.95 L65.7 170.49 L65.9 169.33 L66.1 168.33 L66.3 167.37 L66.5 166.5 L66.7 165.8 L66.9 165.33 L67.1 165.16 L67.3 165.33 L67.5 165.8 L67.7 166.5 L67.9 167.37 L68.1 168.33 L68.3 169.33 L68.5 170.53 L68.7 172.08 L68.9 173.88 L69.1 175.82 L69.3 177.81 L69.5 179.75 L69.7 181.56 L69.9 183.42 L70.1 185.31 L70.3 187.23 L70.5 189.14 L70.7 191.02 L70.9 192.83 L71.1 194.56 L71.3 196.17 L71.5 197.73 L71.7 199.3 L71.9 200.86 L72.1 202.4 L72.3 203.9 L72.5 205.33 L72.7 206.69 L72.9 207.96 L73.1 209.11 L73.3 210.13 L73.5 211 L73.7 211.73 L73.9 212.41 L74.1 213.05 L74.3 213.67 L74.5 214.25 L74.7 214.81 L74.9 215.33 L75.1 215.83 L75.3 216.29 L75.5 216.73 L75.7 217.13 L75.9 217.51 L76.1 217.85 L76.3 218.17 L76.5 218.46 L76.7 218.72 L76.9 218.95 L77.1 219.17 L77.3 219.38 L77.5 219.58 L77.7 219.77 L77.9 219.95 L78.1 220.12 L78.3 220.28 L78.5 220.43 L78.7 220.58 L78.9 220.71 L79.1 220.84 L79.3 220.95 L79.5 221.06 L79.7 221.16 L79.9 221.26 L80.1 221.34 L80.3 221.42 L80.5 221.5 L80.7 221.58 L80.9 221.66 L81.1 221.73 L81.3 221.81 L81.5 221.88 L81.7 221.95 L81.9 222.02 L82.1 222.08 L82.3 222.14 L82.5 222.19 L82.7 222.24 L82.9 222.28 L83.1 222.32 L83.3 222.35 L83.5 222.38 L83.7 222.4 L83.9 222.41 L84.1 222.41 L84.3 222.41 L84.5 222.4 L84.7 222.38 L84.9 222.35 L85.1 222.31 L85.3 222.27 L85.5 222.22 L85.7 222.16 L85.9 222.1 L86.1 222.04 L86.3 221.96 L86.5 221.89 L86.7 221.81 L86.9 221.73 L87.1 221.64 L87.3 221.55 L87.5 221.46 L87.7 221.36 L87.9 221.24 L88.1 221.1 L88.3 220.94 L88.5 220.76 L88.7 220.56 L88.9 220.34 L89.1 220.09 L89.3 219.82 L89.5 219.52 L89.7 219.19 L89.9 218.84 L90.1 218.38 L90.3 217.76 L90.5 216.99 L90.7 216.09 L90.9 215.06 L91.1 213.93 L91.3 212.7 L91.5 211.38 L91.7 209.76 L91.9 207.7 L92.1 205.31 L92.3 202.72 L92.5 200.05 L92.7 197.43 L92.9 194.91 L93.1 192.26 L93.3 189.51 L93.5 186.78 L93.7 184.16 L93.9 181.75 L94.1 179.62 L94.3 177.54 L94.5 175.53 L94.7 173.65 L94.9 171.95 L95.1 170.49 L95.3 169.33 L95.5 168.33 L95.7 167.37 L95.9 166.5 L96.1 165.8 L96.3 165.33 L96.5 165.16 L96.7 165.33 L96.9 165.8 L97.1 166.5 L97.3 167.37 L97.5 168.33 L97.7 169.33 L97.9 170.53 L98.1 172.08 L98.3 173.88 L98.5 175.82 L98.7 177.81 L98.9 179.75 L99.1 181.56 L99.3 183.42 L99.5 185.31 L99.7 187.23 L99.9 189.14 L100.1 191.02 L100.3 192.83 L100.5 194.56 L100.7 196.17 L100.9 197.73 L101.1 199.3 L101.3 200.86 L101.5 202.4 L101.7 203.9 L101.9 205.33 L102.1 206.69 L102.3 207.96 L102.5 209.11 L102.7 210.13 L102.9 211 L103.1 211.73 L103.3 212.41 L103.5 213.05 L103.7 213.67 L103.9 214.25 L104.1 214.81 L104.3 215.33 L104.5 215.83 L104.7 216.29 L104.9 216.73 L105.1 217.13 L105.3 217.51" fill="none" stroke="#0808ff" stroke-width="2" stroke-linejoin="round" stroke-linecap="round" />
<path d="M33.5 205.69 L33.7 206.92 L33.9 208.11 L34.1 209.26 L34.3 210.35 L34.5 211.36 L34.7 212.28 L34.9 213.09 L35.1 213.79 L35.3 214.37 L35.5 214.91 L35.7 215.42 L35.9 215.92 L36.1 216.38 L36.3 216.83 L36.5 217.24 L36.7 217.64 L36.9 218.01 L37.1 218.36 L37.3 218.68 L37.5 218.98 L37.7 219.26 L37.9 219.51 L38.1 219.74 L38.3 219.94 L38.5 220.13 L38.7 220.31 L38.9 220.47 L39.1 220.63 L39.3 220.78 L39.5 220.93 L39.7 221.06 L39.9 221.19 L40.1 221.31 L40.3 221.43 L40.5 221.54 L40.7 221.64 L40.9 221.73 L41.1 221.82 L41.3 221.9 L41.5 221.97 L41.7 222.04 L41.9 222.1 L42.1 222.17 L42.3 222.23 L42.5 222.29 L42.7 222.35 L42.9 222.41 L43.1 222.47 L43.3 222.53 L43.5 222.58 L43.7 222.63 L43.9 222.67 L44.1 222.72 L44.3 222.76 L44.5 222.79 L44.7 222.82 L44.9 222.85 L45.1 222.87 L45.3 222.88 L45.5 222.89 L45.7 222.9 L45.9 222.89 L46.1 222.88 L46.3 222.87 L46.5 222.84 L46.7 222.81 L46.9 222.78 L47.1 222.74 L47.3 222.7 L47.5 222.65 L47.7 222.59 L47.9 222.54 L48.1 222.48 L48.3 222.41 L48.5 222.35 L48.7 222.28 L48.9 222.21 L49.1 222.13 L49.3 222.05 L49.5 221.96 L49.7 221.85 L49.9 221.72 L50.1 221.58 L50.3 221.42 L50.5 221.24 L50.7 221.04 L50.9 220.82 L51.1 220.58 L51.3 220.32 L51.5 220.04 L51.7 219.68 L51.9 219.18 L52.1 218.57 L52.3 217.85 L52.5 217.03 L52.7 216.12 L52.9 215.14 L53.1 214.09 L53.3 212.8 L53.5 211.15 L53.7 209.24 L53.9 207.17 L54.1 205.04 L54.3 202.95 L54.5 200.94 L54.7 198.83 L54.9 196.64 L55.1 194.45 L55.3 192.36 L55.5 190.44 L55.7 188.74 L55.9 187.08 L56.1 185.48 L56.3 183.97 L56.5 182.61 L56.7 181.45 L56.9 180.53 L57.1 179.73 L57.3 178.96 L57.5 178.27 L57.7 177.71 L57.9 177.33 L58.1 177.19 L58.3 177.33 L58.5 177.71 L58.7 178.27 L58.9 178.96 L59.1 179.73 L59.3 180.53 L59.5 181.48 L59.7 182.72 L59.9 184.15 L60.1 185.71 L60.3 187.3 L60.5 188.84 L60.7 190.29 L60.9 191.77 L61.1 193.28 L61.3 194.81 L61.5 196.34 L61.7 197.84 L61.9 199.28 L62.1 200.66 L62.3 201.95 L62.5 203.19 L62.7 204.44 L62.9 205.69 L63.1 206.92 L63.3 208.11 L63.5 209.26 L63.7 210.35 L63.9 211.36 L64.1 212.28 L64.3 213.09 L64.5 213.79 L64.7 214.37 L64.9 214.91 L65.1 215.42 L65.3 215.92 L65.5 216.38 L65.7 216.83 L65.9 217.24 L66.1 217.64 L66.3 218.01 L66.5 218.36 L66.7 218.68 L66.9 218.98 L67.1 219.26 L67.3 219.51 L67.5 219.74 L67.7 219.94 L67.9 220.13 L68.1 220.31 L68.3 220.47 L68.5 220.63 L68.7 220.78 L68.9 220.93 L69.1 221.06 L69.3 221.19 L69.5 221.31 L69.7 221.43 L69.9 221.54 L70.1 221.64 L70.3 221.73 L70.5 221.82 L70.7 221.9 L70.9 221.97 L71.1 222.04 L71.3 222.1 L71.5 222.17 L71.7 222.23 L71.9 222.29 L72.1 222.35 L72.3 222.41 L72.5 222.47 L72.7 222.53 L72.9 222.58 L73.1 222.63 L73.3 222.67 L73.5 222.72 L73.7 222.76 L73.9 222.79 L74.1 222.82 L74.3 222.85 L74.5 222.87 L74.7 222.88 L74.9 222.89 L75.1 222.9 L75.3 222.89 L75.5 222.88 L75.7 222.87 L75.9 222.84 L76.1 222.81 L76.3 222.78 L76.5 222.74 L76.7 222.7 L76.9 222.65 L77.1 222.59 L77.3 222.54 L77.5 222.48 L77.7 222.41 L77.9 222.35 L78.1 222.28 L78.3 222.21 L78.5 222.13 L78.7 222.05 L78.9 221.96 L79.1 221.85 L79.3 221.72 L79.5 221.58 L79.7 221.42 L79.9 221.24 L80.1 221.04 L80.3 220.82 L80.5 220.58 L80.7 220.32 L80.9 220.04 L81.1 219.68 L81.3 219.18 L81.5 218.57 L81.7 217.85 L81.9 217.03 L82.1 216.12 L82.3 215.14 L82.5 214.09 L82.7 212.8 L82.9 211.15 L83.1 209.24 L83.3 207.17 L83.5 205.04 L83.7 202.95 L83.9 200.94 L84.1 198.83 L84.3 196.64 L84.5 194.45 L84.7 192.36 L84.9 190.44 L85.1 188.74 L85.3 187.08 L85.5 185.48 L85.7 183.97 L85.9 182.61 L86.1 181.45 L86.3 180.53 L86.5 179.73 L86.7 178.96 L86.9 178.27 L87.1 177.71 L87.3 177.33 L87.5 177.19 L87.7 177.33 L87.9 177.71 L88.1 178.27 L88.3 178.96 L88.5 179.73 L88.7 180.53 L88.9 181.48 L89.1 182.72 L89.3 184.15 L89.5 185.71 L89.7 187.3 L89.9 188.84 L90.1 190.29 L90.3 191.77 L90.5 193.28 L90.7 194.81 L90.9 196.34 L91.1 197.84 L91.3 199.28 L91.5 200.66 L91.7 201.95 L91.9 203.19 L92.1 204.44 L92.3 205.69 L92.5 206.92 L92.7 208.11 L92.9 209.26 L93.1 210.35 L93.3 211.36 L93.5 212.28 L93.7 213.09 L93.9 213.79 L94.1 214.37 L94.3 214.91 L94.5 215.42 L94.7 215.92 L94.9 216.38 L95.1 216.83 L95.3 217.24 L95.5 217.64 L95.7 218.01 L95.9 218.36 L96.1 218.68 L96.3 218.98 L96.5 219.26 L96.7 219.51 L96.9 219.74 L97.1 219.94 L97.3 220.13 L97.5 220.31 L97.7 220.47 L97.9 220.63 L98.1 220.78 L98.3 220.93 L98.5 221.06 L98.7 221.19 L98.9 221.31 L99.1 221.43 L99.3 221.54 L99.5 221.64 L99.7 221.73 L99.9 221.82 L100.1 221.9 L100.3 221.97 L100.5 222.04 L100.7 222.1 L100.9 222.17 L101.1 222.23 L101.3 222.29 L101.5 222.35 L101.7 222.41 L101.9 222.47 L102.1 222.53 L102.3 222.58 L102.5 222.63 L102.7 222.67 L102.9 222.72 L103.1 222.76 L103.3 222.79 L103.5 222.82 L103.7 222.85 L103.9 222.87 L104.1 222.88 L104.3 222.89 L104.5 222.9 L104.7 222.89 L104.9 222.88 L105.1 222.87 L105.3 222.84" fill="none" stroke="#ff8208" stroke-width="2" stroke-linejoin="round" stroke-linecap="round" />
</g>
<text x="43.3" y="239.6" font-size="10" text-anchor="middle" font-weight="normal" font-style="normal" fill="#1a1a1a" letter-spacing="0.2">100</text>
<text x="66.7" y="239.6" font-size="10" text-anchor="middle" font-weight="normal" font-style="normal" fill="#1a1a1a" letter-spacing="0.2">200</text>
<text x="90.1" y="239.6" font-size="10" text-anchor="middle" font-weight="normal" font-style="normal" fill="#1a1a1a" letter-spacing="0.2">300</text>
<text x="26.6" y="227.5" font-size="10" text-anchor="end" font-weight="normal" font-style="normal" fill="#1a1a1a" letter-spacing="0.2">0</text>
<text x="26.6" y="213.82" font-size="10" text-anchor="end" font-weight="normal" font-style="normal" fill="#1a1a1a" letter-spacing="0.2">1</text>
<text x="26.6" y="200.14" font-size="10" text-anchor="end" font-weight="normal" font-style="normal" fill="#1a1a1a" letter-spacing="0.2">2</text>
<text x="26.6" y="186.46" font-size="10" text-anchor="end" font-weight="normal" font-style="normal" fill="#1a1a1a" letter-spacing="0.2">3</text>
<text x="26.6" y="172.78" font-size="10" text-anchor="end" font-weight="normal" font-style="normal" fill="#1a1a1a" letter-spacing="0.2">4</text>
<text x="26.6" y="159.1" font-size="10" text-anchor="end" font-weight="normal" font-style="normal" fill="#1a1a1a" letter-spacing="0.2">5</text>
<text x="70" y="255.7" font-size="10.4" text-anchor="middle" font-weight="normal" font-style="normal" fill="#1a1a1a"  textLength="51.5" lengthAdjust="spacing">Time [min]</text>
<g transform="translate(11.0 208.3) rotate(-90)"><text x="0" y="0" font-size="10.4" font-style="italic" fill="#1a1a1a">p</text><text x="6.0" y="2.0" font-size="7.6" font-style="italic" fill="#1a1a1a">i</text><text x="10.8" y="0" font-size="10.4" fill="#1a1a1a" textLength="24.6" lengthAdjust="spacing">[µM]</text></g>
<text x="0.3" y="153.9" font-size="13.2" text-anchor="start" font-weight="bold" font-style="normal" fill="#1a1a1a" >B</text>
<clipPath id="clipC"><rect x="158.5" y="150" width="71.8" height="76"/></clipPath>
<g clip-path="url(#clipC)">
<path d="M158.5 220.33 L158.65 220.53 L158.8 220.72 L158.95 220.9 L159.1 221.07 L159.25 221.23 L159.4 221.38 L159.55 221.51 L159.7 221.64 L159.85 221.76 L160 221.87 L160.15 221.97 L160.3 222.06 L160.45 222.14 L160.6 222.21 L160.75 222.28 L160.9 222.36 L161.05 222.43 L161.2 222.5 L161.35 222.57 L161.5 222.63 L161.65 222.69 L161.8 222.74 L161.95 222.8 L162.1 222.84 L162.25 222.88 L162.4 222.92 L162.55 222.94 L162.7 222.96 L162.85 222.45 L163 222.43 L163.15 222.41 L163.3 222.38 L163.45 222.33 L163.6 222.28 L163.75 222.21 L163.9 222.14 L164.05 222.06 L164.2 221.98 L164.35 221.88 L164.5 221.79 L164.65 221.68 L164.8 221.58 L164.95 221.47 L165.1 221.34 L165.25 221.18 L165.4 220.99 L165.55 220.77 L165.7 220.53 L165.85 220.24 L166 219.93 L166.15 219.57 L166.3 219.18 L166.45 218.73 L166.6 218.08 L166.75 217.2 L166.9 216.13 L167.05 214.89 L167.2 213.49 L167.35 211.97 L167.5 210.15 L167.65 207.69 L167.8 204.79 L167.95 201.66 L168.1 198.51 L168.25 195.51 L168.4 192.36 L168.55 189.09 L168.7 185.88 L168.85 182.92 L169 180.34 L169.15 177.88 L169.3 175.52 L169.45 173.38 L169.6 171.54 L169.75 170.12 L169.9 168.94 L170.05 167.81 L170.2 166.87 L170.35 166.22 L170.5 165.98 L170.65 166.22 L170.8 166.87 L170.95 167.81 L171.1 168.94 L171.25 170.12 L171.4 171.6 L171.55 173.55 L171.7 175.79 L171.85 178.16 L172 180.46 L172.15 182.62 L172.3 184.84 L172.45 187.11 L172.6 189.39 L172.75 191.62 L172.9 193.76 L173.05 195.76 L173.2 197.62 L173.35 199.48 L173.5 201.34 L173.65 203.16 L173.8 204.91 L173.95 206.57 L174.1 208.09 L174.25 209.46 L174.4 210.63 L174.55 211.59 L174.7 212.41 L174.85 213.18 L175 213.91 L175.15 214.59 L175.3 215.24 L175.45 215.84 L175.6 216.39 L175.75 216.91 L175.9 217.38 L176.05 217.81 L176.2 218.2 L176.35 218.54 L176.5 218.85 L176.65 219.12 L176.8 219.37 L176.95 219.61 L177.1 219.84 L177.25 220.05 L177.4 220.25 L177.55 220.44 L177.7 220.61 L177.85 220.77 L178 220.92 L178.15 221.06 L178.3 221.18 L178.45 221.29 L178.6 221.39 L178.75 221.49 L178.9 221.58 L179.05 221.68 L179.2 221.77 L179.35 221.86 L179.5 221.94 L179.65 222.02 L179.8 222.1 L179.95 222.17 L180.1 222.23 L180.25 222.29 L180.4 222.34 L180.55 222.38 L180.7 222.41 L180.85 222.43 L181 222.45 L181.15 222.91 L181.3 222.87 L181.45 222.83 L181.6 222.78 L181.75 222.72 L181.9 222.66 L182.05 222.59 L182.2 222.52 L182.35 222.44 L182.5 222.36 L182.65 222.28 L182.8 222.19 L182.95 222.08 L183.1 221.95 L183.25 221.8 L183.4 221.62 L183.55 221.42 L183.7 221.19 L183.85 220.94 L184 220.65 L184.15 220.34 L184.3 219.95 L184.45 219.39 L184.6 218.66 L184.75 217.78 L184.9 216.78 L185.05 215.66 L185.2 214.45 L185.35 212.87 L185.5 210.83 L185.65 208.51 L185.8 206.06 L185.95 203.65 L186.1 201.32 L186.25 198.83 L186.4 196.3 L186.55 193.87 L186.7 191.67 L186.85 189.73 L187 187.84 L187.15 186.06 L187.3 184.47 L187.45 183.15 L187.6 182.15 L187.75 181.24 L187.9 180.41 L188.05 179.74 L188.2 179.33 L188.35 179.27 L188.5 179.57 L188.65 180.16 L188.8 180.95 L188.95 181.84 L189.1 182.79 L189.25 184.07 L189.4 185.67 L189.55 187.45 L189.7 189.28 L189.85 191.02 L190 192.7 L190.15 194.44 L190.3 196.2 L190.45 197.96 L190.6 199.66 L190.75 201.29 L190.9 202.8 L191.05 204.23 L191.2 205.68 L191.35 207.11 L191.5 208.5 L191.65 209.83 L191.8 211.09 L191.95 212.23 L192.1 213.24 L192.25 214.1 L192.4 214.78 L192.55 215.4 L192.7 215.99 L192.85 216.55 L193 217.07 L193.15 217.55 L193.3 218.01 L193.45 218.43 L193.6 218.81 L193.75 219.17 L193.9 219.49 L194.05 219.78 L194.2 220.04 L194.35 220.26 L194.5 220.47 L194.65 220.66 L194.8 220.84 L194.95 221.01 L195.1 221.18 L195.25 221.33 L195.4 221.47 L195.55 221.6 L195.7 221.72 L195.85 221.83 L196 221.93 L196.15 222.03 L196.3 222.11 L196.45 222.19 L196.6 222.26 L196.75 222.33 L196.9 222.41 L197.05 222.48 L197.2 222.54 L197.35 222.61 L197.5 222.67 L197.65 222.73 L197.8 222.78 L197.95 222.83 L198.1 222.45 L198.25 222.44 L198.4 222.42 L198.55 222.39 L198.7 222.35 L198.85 222.3 L199 222.23 L199.15 222.17 L199.3 222.09 L199.45 222 L199.6 221.91 L199.75 221.82 L199.9 221.72 L200.05 221.61 L200.2 221.5 L200.35 221.38 L200.5 221.23 L200.65 221.06 L200.8 220.85 L200.95 220.61 L201.1 220.34 L201.25 220.04 L201.4 219.69 L201.55 219.31 L201.7 218.89 L201.85 218.32 L202 217.52 L202.15 216.51 L202.3 215.32 L202.45 213.97 L202.6 212.49 L202.75 210.83 L202.9 208.57 L203.05 205.8 L203.2 202.72 L203.35 199.55 L203.5 196.5 L203.65 193.43 L203.8 190.18 L203.95 186.93 L204.1 183.87 L204.25 181.17 L204.4 178.69 L204.55 176.29 L204.7 174.06 L204.85 172.11 L205 170.54 L205.15 169.33 L205.3 168.17 L205.45 167.16 L205.6 166.4 L205.75 166 L205.9 166.09 L206.05 166.61 L206.2 167.47 L206.35 168.55 L206.5 169.72 L206.65 171.04 L206.8 172.86 L206.95 175.02 L207.1 177.37 L207.25 179.71 L207.4 181.89 L207.55 184.09 L207.7 186.35 L207.85 188.63 L208 190.88 L208.15 193.06 L208.3 195.11 L208.45 197 L208.6 198.86 L208.75 200.72 L208.9 202.56 L209.05 204.34 L209.2 206.03 L209.35 207.6 L209.5 209.02 L209.65 210.26 L209.8 211.3 L209.95 212.14 L210.1 212.93 L210.25 213.67 L210.4 214.37 L210.55 215.03 L210.7 215.64 L210.85 216.21 L211 216.74 L211.15 217.23 L211.3 217.67 L211.45 218.07 L211.6 218.43 L211.75 218.75 L211.9 219.03 L212.05 219.29 L212.2 219.53 L212.35 219.77 L212.5 219.98 L212.65 220.19 L212.8 220.38 L212.95 220.56 L213.1 220.72 L213.25 220.87 L213.4 221.01 L213.55 221.14 L213.7 221.26 L213.85 221.36 L214 221.46 L214.15 221.55 L214.3 221.65 L214.45 221.74 L214.6 221.83 L214.75 221.91 L214.9 222 L215.05 222.07 L215.2 222.15 L215.35 222.21 L215.5 222.27 L215.65 222.32 L215.8 222.37 L215.95 222.4 L216.1 222.43 L216.25 222.44 L216.4 222.96 L216.55 222.93 L216.7 222.9 L216.85 222.86 L217 222.81 L217.15 222.76 L217.3 222.7 L217.45 222.64 L217.6 222.57 L217.75 222.49 L217.9 222.41 L218.05 222.33 L218.2 222.25 L218.35 222.15 L218.5 222.04 L218.65 221.9 L218.8 221.74 L218.95 221.56 L219.1 221.35 L219.25 221.11 L219.4 220.85 L219.55 220.55 L219.7 220.23 L219.85 219.78 L220 219.16 L220.15 218.38 L220.3 217.46 L220.45 216.41 L220.6 215.26 L220.75 213.98 L220.9 212.23 L221.05 210.08 L221.2 207.7 L221.35 205.25 L221.5 202.89 L221.65 200.51 L221.8 197.99 L221.95 195.47 L222.1 193.1 L222.25 191.01 L222.4 189.09 L222.55 187.23 L222.7 185.51 L222.85 184 L223 182.78 L223.15 181.84 L223.3 180.95 L223.45 180.16 L223.6 179.57 L223.75 179.27 L223.9 179.33 L224.05 179.74 L224.2 180.41 L224.35 181.24 L224.5 182.15 L224.65 183.17 L224.8 184.58 L224.95 186.25 L225.1 188.07 L225.25 189.88 L225.4 191.57 L225.55 193.28 L225.7 195.03 L225.85 196.79 L226 198.53 L226.15 200.22 L226.3 201.81 L226.45 203.27 L226.6 204.71 L226.75 206.15 L226.9 207.58 L227.05 208.95 L227.2 210.26 L227.35 211.48 L227.5 212.58 L227.65 213.54 L227.8 214.34 L227.95 214.99 L228.1 215.6 L228.25 216.18 L228.4 216.72 L228.55 217.23 L228.7 217.71 L228.85 218.15 L229 218.56 L229.15 218.94 L229.3 219.28 L229.45 219.59 L229.6 219.87 L229.75 220.12 L229.9 220.33 L230.05 220.53 L230.2 220.72 L230.35 220.9" fill="none" stroke="#0808ff" stroke-width="1.9" stroke-linejoin="round" stroke-linecap="round" />
<path d="M158.5 178.65 L158.65 179.06 L158.8 179.74 L158.95 180.58 L159.1 181.51 L159.25 182.55 L159.4 183.97 L159.55 185.67 L159.7 187.51 L159.85 189.36 L160 191.07 L160.15 192.8 L160.3 194.58 L160.45 196.37 L160.6 198.14 L160.75 199.85 L160.9 201.46 L161.05 202.95 L161.2 204.41 L161.35 205.87 L161.5 207.32 L161.65 208.72 L161.8 210.04 L161.95 211.28 L162.1 212.4 L162.25 213.37 L162.4 214.18 L162.55 214.85 L162.7 215.47 L162.85 216.05 L163 216.6 L163.15 217.12 L163.3 217.6 L163.45 218.05 L163.6 218.47 L163.75 218.85 L163.9 219.2 L164.05 219.51 L164.2 219.8 L164.35 220.05 L164.5 220.26 L164.65 220.47 L164.8 220.66 L164.95 220.84 L165.1 221.01 L165.25 221.17 L165.4 221.32 L165.55 221.46 L165.7 221.59 L165.85 221.71 L166 221.82 L166.15 221.92 L166.3 222.01 L166.45 222.1 L166.6 222.17 L166.75 222.25 L166.9 222.32 L167.05 222.39 L167.2 222.46 L167.35 222.53 L167.5 222.6 L167.65 222.66 L167.8 222.71 L167.95 222.77 L168.1 222.81 L168.25 222.85 L168.4 222.89 L168.55 222.92 L168.7 222.94 L168.85 222.6 L169 222.59 L169.15 222.57 L169.3 222.53 L169.45 222.49 L169.6 222.44 L169.75 222.38 L169.9 222.31 L170.05 222.24 L170.2 222.16 L170.35 222.07 L170.5 221.98 L170.65 221.89 L170.8 221.79 L170.95 221.68 L171.1 221.56 L171.25 221.41 L171.4 221.24 L171.55 221.04 L171.7 220.8 L171.85 220.54 L172 220.24 L172.15 219.91 L172.3 219.54 L172.45 219.12 L172.6 218.51 L172.75 217.7 L172.9 216.7 L173.05 215.53 L173.2 214.23 L173.35 212.8 L173.5 211.1 L173.65 208.81 L173.8 206.1 L173.95 203.17 L174.1 200.22 L174.25 197.42 L174.4 194.47 L174.55 191.41 L174.7 188.42 L174.85 185.65 L175 183.24 L175.15 180.93 L175.3 178.73 L175.45 176.73 L175.6 175.01 L175.75 173.68 L175.9 172.57 L176.05 171.53 L176.2 170.64 L176.35 170.03 L176.5 169.81 L176.65 170.03 L176.8 170.64 L176.95 171.53 L177.1 172.57 L177.25 173.68 L177.4 175.06 L177.55 176.89 L177.7 178.98 L177.85 181.19 L178 183.35 L178.15 185.36 L178.3 187.44 L178.45 189.57 L178.6 191.69 L178.75 193.78 L178.9 195.78 L179.05 197.65 L179.2 199.39 L179.35 201.13 L179.5 202.87 L179.65 204.57 L179.8 206.21 L179.95 207.75 L180.1 209.18 L180.25 210.46 L180.4 211.56 L180.55 212.45 L180.7 213.21 L180.85 213.94 L181 214.62 L181.15 215.26 L181.3 215.86 L181.45 216.42 L181.6 216.94 L181.75 217.42 L181.9 217.86 L182.05 218.27 L182.2 218.63 L182.35 218.95 L182.5 219.24 L182.65 219.49 L182.8 219.73 L182.95 219.95 L183.1 220.16 L183.25 220.36 L183.4 220.55 L183.55 220.72 L183.7 220.88 L183.85 221.03 L184 221.17 L184.15 221.3 L184.3 221.42 L184.45 221.52 L184.6 221.62 L184.75 221.7 L184.9 221.79 L185.05 221.88 L185.2 221.97 L185.35 222.05 L185.5 222.13 L185.65 222.2 L185.8 222.27 L185.95 222.34 L186.1 222.4 L186.25 222.45 L186.4 222.5 L186.55 222.54 L186.7 222.57 L186.85 222.59 L187 222.6 L187.15 222.94 L187.3 222.93 L187.45 222.9 L187.6 222.87 L187.75 222.83 L187.9 222.78 L188.05 222.73 L188.2 222.67 L188.35 222.6 L188.5 222.53 L188.65 222.46 L188.8 222.38 L188.95 222.29 L189.1 222.21 L189.25 222.11 L189.4 222 L189.55 221.86 L189.7 221.7 L189.85 221.51 L190 221.3 L190.15 221.06 L190.3 220.79 L190.45 220.49 L190.6 220.16 L190.75 219.71 L190.9 219.08 L191.05 218.28 L191.2 217.35 L191.35 216.29 L191.5 215.12 L191.65 213.82 L191.8 212.04 L191.95 209.86 L192.1 207.44 L192.25 204.95 L192.4 202.56 L192.55 200.14 L192.7 197.59 L192.85 195.03 L193 192.63 L193.15 190.5 L193.3 188.56 L193.45 186.67 L193.6 184.92 L193.75 183.39 L193.9 182.15 L194.05 181.2 L194.2 180.29 L194.35 179.49 L194.5 178.89 L194.65 178.58 L194.8 178.65 L194.95 179.06 L195.1 179.74 L195.25 180.58 L195.4 181.51 L195.55 182.55 L195.7 183.97 L195.85 185.67 L196 187.51 L196.15 189.36 L196.3 191.07 L196.45 192.8 L196.6 194.58 L196.75 196.37 L196.9 198.14 L197.05 199.85 L197.2 201.46 L197.35 202.95 L197.5 204.41 L197.65 205.87 L197.8 207.32 L197.95 208.72 L198.1 210.04 L198.25 211.28 L198.4 212.4 L198.55 213.37 L198.7 214.18 L198.85 214.85 L199 215.47 L199.15 216.05 L199.3 216.6 L199.45 217.12 L199.6 217.6 L199.75 218.05 L199.9 218.47 L200.05 218.85 L200.2 219.2 L200.35 219.51 L200.5 219.8 L200.65 220.05 L200.8 220.26 L200.95 220.47 L201.1 220.66 L201.25 220.84 L201.4 221.01 L201.55 221.17 L201.7 221.32 L201.85 221.46 L202 221.59 L202.15 221.71 L202.3 221.82 L202.45 221.92 L202.6 222.01 L202.75 222.1 L202.9 222.17 L203.05 222.25 L203.2 222.32 L203.35 222.39 L203.5 222.46 L203.65 222.53 L203.8 222.6 L203.95 222.66 L204.1 222.71 L204.25 222.6 L204.4 222.59 L204.55 222.57 L204.7 222.53 L204.85 222.49 L205 222.44 L205.15 222.38 L205.3 222.31 L205.45 222.24 L205.6 222.16 L205.75 222.07 L205.9 221.98 L206.05 221.89 L206.2 221.79 L206.35 221.68 L206.5 221.56 L206.65 221.41 L206.8 221.24 L206.95 221.04 L207.1 220.8 L207.25 220.54 L207.4 220.24 L207.55 219.91 L207.7 219.54 L207.85 219.12 L208 218.51 L208.15 217.7 L208.3 216.7 L208.45 215.53 L208.6 214.23 L208.75 212.8 L208.9 211.1 L209.05 208.81 L209.2 206.1 L209.35 203.17 L209.5 200.22 L209.65 197.42 L209.8 194.47 L209.95 191.41 L210.1 188.42 L210.25 185.65 L210.4 183.24 L210.55 180.93 L210.7 178.73 L210.85 176.73 L211 175.01 L211.15 173.68 L211.3 172.57 L211.45 171.53 L211.6 170.64 L211.75 170.03 L211.9 169.81 L212.05 170.03 L212.2 170.64 L212.35 171.53 L212.5 172.57 L212.65 173.68 L212.8 175.06 L212.95 176.89 L213.1 178.98 L213.25 181.19 L213.4 183.35 L213.55 185.36 L213.7 187.44 L213.85 189.57 L214 191.69 L214.15 193.78 L214.3 195.78 L214.45 197.65 L214.6 199.39 L214.75 201.13 L214.9 202.87 L215.05 204.57 L215.2 206.21 L215.35 207.75 L215.5 209.18 L215.65 210.46 L215.8 211.56 L215.95 212.45 L216.1 213.21 L216.25 213.94 L216.4 214.62 L216.55 215.26 L216.7 215.86 L216.85 216.42 L217 216.94 L217.15 217.42 L217.3 217.86 L217.45 218.27 L217.6 218.63 L217.75 218.95 L217.9 219.24 L218.05 219.49 L218.2 219.73 L218.35 219.95 L218.5 220.16 L218.65 220.36 L218.8 220.55 L218.95 220.72 L219.1 220.88 L219.25 221.03 L219.4 221.17 L219.55 221.3 L219.7 221.42 L219.85 221.52 L220 221.62 L220.15 221.7 L220.3 221.79 L220.45 221.88 L220.6 221.97 L220.75 222.05 L220.9 222.13 L221.05 222.2 L221.2 222.27 L221.35 222.34 L221.5 222.4 L221.65 222.45 L221.8 222.5 L221.95 222.54 L222.1 222.57 L222.25 222.59 L222.4 222.6 L222.55 223.43 L222.7 223.43 L222.85 223.43 L223 223.05 L223.15 223.03 L223.3 223.01 L223.45 222.99 L223.6 222.95 L223.75 222.91 L223.9 222.86 L224.05 222.8 L224.2 222.74 L224.35 222.68 L224.5 222.61 L224.65 222.53 L224.8 222.45 L224.95 222.37 L225.1 222.29 L225.25 222.18 L225.4 222.06 L225.55 221.91 L225.7 221.75 L225.85 221.55 L226 221.33 L226.15 221.09 L226.3 220.82 L226.45 220.51 L226.6 220.14 L226.75 219.6 L226.9 218.9 L227.05 218.05 L227.2 217.09 L227.35 216.02 L227.5 214.85 L227.65 213.33 L227.8 211.38 L227.95 209.15 L228.1 206.79 L228.25 204.48 L228.4 202.24 L228.55 199.85 L228.7 197.42 L228.85 195.08 L229 192.96 L229.15 191.1 L229.3 189.28 L229.45 187.58 L229.6 186.05 L229.75 184.78 L229.9 183.81 L230.05 182.94 L230.2 182.14 L230.35 181.5" fill="none" stroke="#ff0808" stroke-width="1.9" stroke-linejoin="round" stroke-linecap="round" />
<path d="M158.5 221.5 L158.65 221.39 L158.8 221.25 L158.95 221.09 L159.1 220.9 L159.25 220.68 L159.4 220.43 L159.55 220.14 L159.7 219.81 L159.85 219.45 L160 219.05 L160.15 218.59 L160.3 217.92 L160.45 217.03 L160.6 215.93 L160.75 214.66 L160.9 213.23 L161.05 211.67 L161.2 209.81 L161.35 207.3 L161.5 204.33 L161.65 201.12 L161.8 197.9 L161.95 194.83 L162.1 191.6 L162.25 188.26 L162.4 184.98 L162.55 181.95 L162.7 179.31 L162.85 176.79 L163 174.38 L163.15 172.18 L163.3 170.3 L163.45 168.85 L163.6 167.64 L163.75 166.49 L163.9 165.52 L164.05 164.86 L164.2 164.61 L164.35 164.86 L164.5 165.52 L164.65 166.49 L164.8 167.64 L164.95 168.85 L165.1 170.36 L165.25 172.36 L165.4 174.65 L165.55 177.07 L165.7 179.43 L165.85 181.64 L166 183.91 L166.15 186.24 L166.3 188.56 L166.45 190.85 L166.6 193.03 L166.75 195.08 L166.9 196.99 L167.05 198.89 L167.2 200.79 L167.35 202.66 L167.5 204.45 L167.65 206.14 L167.8 207.7 L167.95 209.1 L168.1 210.3 L168.25 211.28 L168.4 212.12 L168.55 212.91 L168.7 213.66 L168.85 214.36 L169 215.02 L169.15 215.63 L169.3 216.2 L169.45 216.73 L169.6 217.21 L169.75 217.65 L169.9 218.04 L170.05 218.4 L170.2 218.71 L170.35 218.99 L170.5 219.25 L170.65 219.49 L170.8 219.72 L170.95 219.94 L171.1 220.15 L171.25 220.34 L171.4 220.51 L171.55 220.68 L171.7 220.83 L171.85 220.97 L172 221.1 L172.15 221.21 L172.3 221.31 L172.45 221.41 L172.6 221.51 L172.75 221.6 L172.9 221.7 L173.05 221.79 L173.2 221.88 L173.35 221.96 L173.5 222.04 L173.65 222.11 L173.8 222.17 L173.95 222.23 L174.1 222.28 L174.25 222.32 L174.4 222.36 L174.55 222.38 L174.7 222.39 L174.85 223.43 L175 222.77 L175.15 222.76 L175.3 222.73 L175.45 222.7 L175.6 222.66 L175.75 222.61 L175.9 222.55 L176.05 222.49 L176.2 222.42 L176.35 222.34 L176.5 222.26 L176.65 222.18 L176.8 222.09 L176.95 222 L177.1 221.9 L177.25 221.78 L177.4 221.63 L177.55 221.46 L177.7 221.27 L177.85 221.05 L178 220.79 L178.15 220.51 L178.3 220.19 L178.45 219.84 L178.6 219.41 L178.75 218.78 L178.9 217.97 L179.05 217 L179.2 215.88 L179.35 214.64 L179.5 213.3 L179.65 211.54 L179.8 209.28 L179.95 206.7 L180.1 203.98 L180.25 201.3 L180.4 198.71 L180.55 195.95 L180.7 193.14 L180.85 190.43 L181 187.99 L181.15 185.83 L181.3 183.73 L181.45 181.76 L181.6 179.99 L181.75 178.52 L181.9 177.41 L182.05 176.4 L182.2 175.47 L182.35 174.73 L182.5 174.28 L182.65 174.21 L182.8 174.55 L182.95 175.2 L183.1 176.08 L183.25 177.07 L183.4 178.12 L183.55 179.54 L183.7 181.32 L183.85 183.31 L184 185.34 L184.15 187.27 L184.3 189.13 L184.45 191.07 L184.6 193.03 L184.75 194.97 L184.9 196.87 L185.05 198.68 L185.2 200.35 L185.35 201.95 L185.5 203.55 L185.65 205.14 L185.8 206.69 L185.95 208.17 L186.1 209.56 L186.25 210.83 L186.4 211.95 L186.55 212.91 L186.7 213.67 L186.85 214.36 L187 215.01 L187.15 215.63 L187.3 216.21 L187.45 216.75 L187.6 217.25 L187.75 217.72 L187.9 218.15 L188.05 218.54 L188.2 218.9 L188.35 219.22 L188.5 219.51 L188.65 219.76 L188.8 219.99 L188.95 220.2 L189.1 220.4 L189.25 220.59 L189.4 220.77 L189.55 220.94 L189.7 221.1 L189.85 221.24 L190 221.38 L190.15 221.5 L190.3 221.62 L190.45 221.72 L190.6 221.81 L190.75 221.9 L190.9 221.98 L191.05 222.06 L191.2 222.14 L191.35 222.22 L191.5 222.29 L191.65 222.36 L191.8 222.43 L191.95 222.5 L192.1 222.39 L192.25 222.37 L192.4 222.34 L192.55 222.3 L192.7 222.26 L192.85 222.2 L193 222.13 L193.15 222.05 L193.3 221.97 L193.45 221.88 L193.6 221.78 L193.75 221.68 L193.9 221.57 L194.05 221.47 L194.2 221.35 L194.35 221.2 L194.5 221.03 L194.65 220.83 L194.8 220.6 L194.95 220.33 L195.1 220.03 L195.25 219.7 L195.4 219.32 L195.55 218.9 L195.7 218.39 L195.85 217.65 L196 216.68 L196.15 215.53 L196.3 214.2 L196.45 212.72 L196.6 211.12 L196.75 209.03 L196.9 206.35 L197.05 203.28 L197.2 200.04 L197.35 196.86 L197.5 193.78 L197.65 190.49 L197.8 187.15 L197.95 183.93 L198.1 181.02 L198.25 178.46 L198.4 175.97 L198.55 173.62 L198.7 171.52 L198.85 169.77 L199 168.44 L199.15 167.24 L199.3 166.14 L199.45 165.26 L199.6 164.72 L199.75 164.64 L199.9 165.04 L200.05 165.82 L200.2 166.86 L200.35 168.04 L200.5 169.29 L200.65 170.98 L200.8 173.1 L200.95 175.45 L201.1 177.87 L201.25 180.17 L201.4 182.39 L201.55 184.68 L201.7 187.01 L201.85 189.33 L202 191.59 L202.15 193.74 L202.3 195.73 L202.45 197.62 L202.6 199.53 L202.75 201.42 L202.9 203.26 L203.05 205.03 L203.2 206.68 L203.35 208.19 L203.5 209.52 L203.65 210.66 L203.8 211.56 L203.95 212.39 L204.1 213.16 L204.25 213.89 L204.4 214.58 L204.55 215.23 L204.7 215.82 L204.85 216.38 L205 216.89 L205.15 217.36 L205.3 217.78 L205.45 218.17 L205.6 218.51 L205.75 218.8 L205.9 219.07 L206.05 219.33 L206.2 219.57 L206.35 219.8 L206.5 220.01 L206.65 220.21 L206.8 220.4 L206.95 220.57 L207.1 220.73 L207.25 220.88 L207.4 221.01 L207.55 221.14 L207.7 221.25 L207.85 221.35 L208 221.44 L208.15 221.54 L208.3 221.64 L208.45 221.73 L208.6 221.82 L208.75 221.9 L208.9 221.98 L209.05 222.06 L209.2 222.13 L209.35 222.19 L209.5 222.25 L209.65 222.3 L209.8 222.34 L209.95 222.36 L210.1 222.38 L210.25 222.39 L210.4 222.77 L210.55 222.76 L210.7 222.73 L210.85 222.7 L211 222.66 L211.15 222.61 L211.3 222.55 L211.45 222.49 L211.6 222.42 L211.75 222.34 L211.9 222.26 L212.05 222.18 L212.2 222.09 L212.35 222 L212.5 221.9 L212.65 221.78 L212.8 221.63 L212.95 221.46 L213.1 221.27 L213.25 221.05 L213.4 220.79 L213.55 220.51 L213.7 220.19 L213.85 219.84 L214 219.41 L214.15 218.78 L214.3 217.97 L214.45 217 L214.6 215.88 L214.75 214.64 L214.9 213.3 L215.05 211.54 L215.2 209.28 L215.35 206.7 L215.5 203.98 L215.65 201.3 L215.8 198.71 L215.95 195.95 L216.1 193.14 L216.25 190.43 L216.4 187.99 L216.55 185.83 L216.7 183.73 L216.85 181.76 L217 179.99 L217.15 178.52 L217.3 177.41 L217.45 176.4 L217.6 175.47 L217.75 174.73 L217.9 174.28 L218.05 174.21 L218.2 174.55 L218.35 175.2 L218.5 176.08 L218.65 177.07 L218.8 178.12 L218.95 179.54 L219.1 181.32 L219.25 183.31 L219.4 185.34 L219.55 187.27 L219.7 189.13 L219.85 191.07 L220 193.03 L220.15 194.97 L220.3 196.87 L220.45 198.68 L220.6 200.35 L220.75 201.95 L220.9 203.55 L221.05 205.14 L221.2 206.69 L221.35 208.17 L221.5 209.56 L221.65 210.83 L221.8 211.95 L221.95 212.91 L222.1 213.67 L222.25 214.36 L222.4 215.01 L222.55 215.63 L222.7 216.21 L222.85 216.75 L223 217.25 L223.15 217.72 L223.3 218.15 L223.45 218.54 L223.6 218.9 L223.75 219.22 L223.9 219.51 L224.05 219.76 L224.2 219.99 L224.35 220.2 L224.5 220.4 L224.65 220.59 L224.8 220.77 L224.95 220.94 L225.1 221.1 L225.25 221.24 L225.4 221.38 L225.55 221.5 L225.7 221.62 L225.85 221.72 L226 221.81 L226.15 221.9 L226.3 221.98 L226.45 222.06 L226.6 222.14 L226.75 222.22 L226.9 222.29 L227.05 222.36 L227.2 222.43 L227.35 222.5 L227.5 222.55 L227.65 222.61 L227.8 222.65 L227.95 222.69 L228.1 222.73 L228.25 222.75 L228.4 222.77 L228.55 222.78 L228.7 222.9 L228.85 222.87 L229 222.83 L229.15 222.79 L229.3 222.74 L229.45 222.68 L229.6 222.61 L229.75 222.54 L229.9 222.47 L230.05 222.39 L230.2 222.31 L230.35 222.22" fill="none" stroke="#ff8208" stroke-width="1.9" stroke-linejoin="round" stroke-linecap="round" />
</g>
<text x="171.1" y="239.6" font-size="10" text-anchor="middle" font-weight="normal" font-style="normal" fill="#1a1a1a" letter-spacing="0.2">200</text>
<text x="200.6" y="239.6" font-size="10" text-anchor="middle" font-weight="normal" font-style="normal" fill="#1a1a1a" letter-spacing="0.2">400</text>
<text x="230.1" y="239.6" font-size="10" text-anchor="middle" font-weight="normal" font-style="normal" fill="#1a1a1a" letter-spacing="0.2">600</text>
<text x="151.6" y="227.5" font-size="10" text-anchor="end" font-weight="normal" font-style="normal" fill="#1a1a1a" letter-spacing="0.2">0</text>
<text x="151.6" y="213.82" font-size="10" text-anchor="end" font-weight="normal" font-style="normal" fill="#1a1a1a" letter-spacing="0.2">1</text>
<text x="151.6" y="200.14" font-size="10" text-anchor="end" font-weight="normal" font-style="normal" fill="#1a1a1a" letter-spacing="0.2">2</text>
<text x="151.6" y="186.46" font-size="10" text-anchor="end" font-weight="normal" font-style="normal" fill="#1a1a1a" letter-spacing="0.2">3</text>
<text x="151.6" y="172.78" font-size="10" text-anchor="end" font-weight="normal" font-style="normal" fill="#1a1a1a" letter-spacing="0.2">4</text>
<text x="151.6" y="159.1" font-size="10" text-anchor="end" font-weight="normal" font-style="normal" fill="#1a1a1a" letter-spacing="0.2">5</text>
<text x="194.7" y="255.7" font-size="10.4" text-anchor="middle" font-weight="normal" font-style="normal" fill="#1a1a1a"  textLength="51.8" lengthAdjust="spacing">Time [min]</text>
<g transform="translate(134.7 208.3) rotate(-90)"><text x="0" y="0" font-size="10.4" font-style="italic" fill="#1a1a1a">p</text><text x="6.0" y="2.0" font-size="7.6" font-style="italic" fill="#1a1a1a">i</text><text x="10.8" y="0" font-size="10.4" fill="#1a1a1a" textLength="24.6" lengthAdjust="spacing">[µM]</text></g>
<text x="124.7" y="154.4" font-size="14.4" text-anchor="start" font-weight="bold" font-style="normal" fill="#1a1a1a" textLength="9.8" lengthAdjust="spacingAndGlyphs">C</text>
<line x1="307.7" y1="43" x2="478.3" y2="43" stroke="#a8a8a8" stroke-width="2.6" />
<path d="M307.7 43.6 L308.7 46.8 L310 54 L310.8 64 L311.8 76.8 L313.2 68 L318.4 37.5 L323.6 12.6 L323.83 15.7 L324.25 20.37 L324.8 24.91 L325.45 28.74 L326.18 31.74 L326.99 33.99 L327.88 35.68 L328.83 36.95 L329.84 37.95 L330.9 38.76 L332.03 39.44 L333.2 40.02 L334.5 38.4 L336 43.2 L338 44.6 L339.8 47.1 L341 43 L342.2 38.7 L343.4 42.6 L344.4 43.8 L347 45 L349.7 46.8 L352 48.4 L353.4 49.9 L354.6 54.8 L355.6 68.6 L357 62 L365.5 37.5 L375.7 12.6 L376 15.37 L376.56 19.61 L377.28 23.86 L378.13 27.56 L379.09 30.54 L380.16 32.86 L381.32 34.62 L382.57 35.96 L383.9 37.02 L385.3 37.87 L386.77 38.58 L388.32 39.18 L389.93 39.71 L391.6 41.8 L393.5 46.8 L395.2 43.4 L396.6 40.5 L397.8 37.7 L399 42 L400.3 46.1 L402.2 49.9 L403.7 56 L409.6 44.9 L416.4 33.5 L418 36.6 L419.4 38.4 L421.1 39.6 L423 40.6 L425.4 41.4 L427 41.6 L428.3 38.8 L429.8 42.4 L431 44 L432.3 46.1 L433.6 43.4 L434.8 41.6 L437 43 L439.7 44.2 L444.7 46.7 L447.2 49 L448.4 52 L449.2 55.6 L469.6 26.4 L470.8 31.2 L472.1 35.2 L473.2 37 L474.6 38.3 L476 39.6 L478 40.6" fill="none" stroke="#1b9fb5" stroke-width="1.9" stroke-linejoin="round" stroke-linecap="round" />
<path d="M307.7 43.6 L309.3 46 L310.6 49 L311.6 54 L312.4 61 L313.1 67.6 L314.2 62 L316.1 50 L322.1 20.6 L322.44 25.19 L323.07 31.12 L323.89 35.75 L324.86 38.74 L325.95 40.52 L327.17 41.56 L328.48 42.18 L329.9 42.59 L331.41 42.87 L333 43.08 L340 43.9 L347.2 44.4 L350.5 45.4 L353.4 46.8 L355.4 48.8 L356.8 51.5 L357.8 56 L358.6 61 L360 56.5 L362.4 47.6 L373 20.4 L373.36 24.3 L374.02 29.54 L374.88 33.88 L375.89 36.93 L377.03 38.91 L378.3 40.17 L379.68 41 L381.16 41.58 L382.74 42.01 L384.41 42.33 L386.16 42.58 L388 42.77 L390.5 43.6 L393.5 45.4 L396 44.2 L399.7 44.6 L403.4 46.1 L405.4 47.6 L406.7 49.3 L409.6 45 L414.6 36.3 L415.4 37.6 L416.1 38.9 L417.2 40.2 L418.6 41.3 L420.6 42.2 L423.6 42.9 L430 43.4 L436 43.8 L442.2 44.8 L447.2 46.7 L449.4 48.3 L450.6 49.8 L451.4 51.6 L454.7 47.2 L466.5 31.4 L467.1 33.6 L467.7 35.7 L468.6 37.6 L469.6 38.9 L471 39.8 L472.7 40.5 L475 41 L478 41.4" fill="none" stroke="#d4143c" stroke-width="1.9" stroke-linejoin="round" stroke-linecap="round" />
<path d="M306.6 43 L312.4 43 L314.4 44.2 L315.8 46.2 L316.8 47.8 L319.3 35 L320 36.6 L320.8 38.6 L321.7 40.2 L323 41.6 L324.8 42.4 L328 42.8 L340 43.2 L350 43.8 L357 44.6 L360 45.6 L362.4 47.4 L368 33.2 L368.6 36.4 L369.3 39.3 L370.3 40.8 L371.7 41.8 L374 42.5 L377.3 42.9 L390 43.2 L400 43.6 L406 44.4 L408 45.2 L409.3 46.1 L413 39.4 L413.8 40.8 L414.8 42 L416.5 42.8 L420 43.1 L435 43.2 L446 43.8 L451 44.4 L453.4 45.2 L454.7 46.1 L461.5 38.2 L462.3 40 L463.4 41.7 L464.6 42.6 L465.9 43 L470 43.1 L478.2 43.1" fill="none" stroke="#f0831e" stroke-width="1.9" stroke-linejoin="round" stroke-linecap="round" />
<text x="308.6" y="108.2" font-size="10" text-anchor="middle" font-weight="normal" font-style="normal" fill="#1a1a1a" letter-spacing="0.2">50</text>
<text x="345.85" y="108.2" font-size="10" text-anchor="middle" font-weight="normal" font-style="normal" fill="#1a1a1a" letter-spacing="0.2">100</text>
<text x="383.1" y="108.2" font-size="10" text-anchor="middle" font-weight="normal" font-style="normal" fill="#1a1a1a" letter-spacing="0.2">150</text>
<text x="420.35" y="108.2" font-size="10" text-anchor="middle" font-weight="normal" font-style="normal" fill="#1a1a1a" letter-spacing="0.2">200</text>
<text x="457.6" y="108.2" font-size="10" text-anchor="middle" font-weight="normal" font-style="normal" fill="#1a1a1a" letter-spacing="0.2">250</text>
<text x="290.2" y="97.2" font-size="10" text-anchor="end" font-weight="normal" font-style="normal" fill="#1a1a1a" letter-spacing="0.2">100</text>
<text x="290.2" y="76.6" font-size="10" text-anchor="end" font-weight="normal" font-style="normal" fill="#1a1a1a" letter-spacing="0.2">110</text>
<text x="290.2" y="56" font-size="10" text-anchor="end" font-weight="normal" font-style="normal" fill="#1a1a1a" letter-spacing="0.2">120</text>
<text x="290.2" y="35.4" font-size="10" text-anchor="end" font-weight="normal" font-style="normal" fill="#1a1a1a" letter-spacing="0.2">130</text>
<text x="290.2" y="14.8" font-size="10" text-anchor="end" font-weight="normal" font-style="normal" fill="#1a1a1a" letter-spacing="0.2">140</text>
<text x="388.3" y="125.2" font-size="10.4" text-anchor="middle" font-weight="normal" font-style="normal" fill="#1a1a1a"  textLength="91.5" lengthAdjust="spacing">Division time [min]</text>
<text x="261.3" y="53.3" font-size="10.4" text-anchor="middle" font-weight="normal" font-style="normal" fill="#1a1a1a" transform="rotate(-90 261.3 53.3)"  textLength="70.8" lengthAdjust="spacing">PtP time [min]</text>
<text x="250.3" y="10.4" font-size="12.9" text-anchor="start" font-weight="bold" font-style="normal" fill="#1a1a1a" >D</text>
<text x="320.3" y="77" font-size="8.2" font-style="italic" fill="#1a1a1a" textLength="6.6" lengthAdjust="spacingAndGlyphs">Δ</text>
<text x="327.8" y="77" font-size="8.2" text-anchor="start" font-weight="normal" font-style="italic" fill="#1a1a1a" >t</text>
<text x="331.1" y="78.7" font-size="6.4" text-anchor="start" font-weight="normal" font-style="normal" fill="#1a1a1a"  textLength="8.6" lengthAdjust="spacing">1,2</text>
<text x="344.2" y="77" font-size="8.2" text-anchor="start" font-weight="normal" font-style="normal" fill="#1a1a1a" >=</text>
<text x="353.8" y="77" font-size="8.2" text-anchor="start" font-weight="normal" font-style="normal" fill="#1a1a1a" >0m</text>
<line x1="385.6" y1="73.9" x2="398.2" y2="73.9" stroke="#a8a8a8" stroke-width="2.6" stroke-linecap="round"/>
<text x="351.6" y="87.1" font-size="8.2" text-anchor="start" font-weight="normal" font-style="italic" fill="#1a1a1a" >T</text>
<text x="357.2" y="88.8" font-size="6.4" text-anchor="start" font-weight="normal" font-style="normal" fill="#1a1a1a"  textLength="8.6" lengthAdjust="spacing">rep</text>
<text x="367.7" y="87.1" font-size="8.2" text-anchor="start" font-weight="normal" font-style="normal" fill="#1a1a1a" >/</text>
<text x="372.3" y="87.1" font-size="8.2" text-anchor="start" font-weight="normal" font-style="normal" fill="#1a1a1a" >2</text>
<line x1="385.4" y1="85.2" x2="398.4" y2="85.2" stroke="#1b9fb5" stroke-width="1.9" />
<text x="435.9" y="77" font-size="8.2" text-anchor="start" font-weight="normal" font-style="italic" fill="#1a1a1a" >T</text>
<text x="441.5" y="78.7" font-size="6.4" text-anchor="start" font-weight="normal" font-style="normal" fill="#1a1a1a"  textLength="8.6" lengthAdjust="spacing">rep</text>
<text x="452" y="77" font-size="8.2" text-anchor="start" font-weight="normal" font-style="normal" fill="#1a1a1a" >/</text>
<text x="456.6" y="77" font-size="8.2" text-anchor="start" font-weight="normal" font-style="normal" fill="#1a1a1a" >5</text>
<line x1="470.3" y1="74.1" x2="483" y2="74.1" stroke="#d4143c" stroke-width="1.9" />
<text x="435.9" y="87.1" font-size="8.2" text-anchor="start" font-weight="normal" font-style="italic" fill="#1a1a1a" >T</text>
<text x="441.5" y="88.8" font-size="6.4" text-anchor="start" font-weight="normal" font-style="normal" fill="#1a1a1a"  textLength="8.6" lengthAdjust="spacing">rep</text>
<text x="452" y="87.1" font-size="8.2" text-anchor="start" font-weight="normal" font-style="normal" fill="#1a1a1a" >/</text>
<text x="456.6" y="87.1" font-size="8.2" text-anchor="start" font-weight="normal" font-style="normal" fill="#1a1a1a" >14</text>
<line x1="470.3" y1="85.1" x2="483" y2="85.1" stroke="#f0831e" stroke-width="1.9" />
<line x1="307.6" y1="173.6" x2="478" y2="173.6" stroke="#a8a8a8" stroke-width="2.6" />
<path d="M310.2 169.7 L327.9 169.9 L331.5 170.8 L334.8 171.8 L337.5 174.2 L339.7 177.4 L341 180.2 L341.8 190 L343 204 L345.2 225.6 L374.5 146.9 L375.2 149 L376.1 151.9 L378 158 L380.4 162.8 L384.2 166.6 L388.5 169.2 L391.2 170.6 L395 171.4 L396.5 170.4 L397.6 171.9 L399.9 172.4 L408 173.4 L416 174.3 L420 175.8 L423.5 177.4 L425.5 178.1 L427 178 L428.5 179.4 L431 180 L433.5 182 L436 184.3 L438.5 189.9 L439.8 194.9 L440.4 197.6 L469.6 157.4 L470.2 159.6 L470.8 161.4 L471.7 163.4 L472.7 164.9 L474 166.2 L475.2 167.1 L477.7 168.6" fill="none" stroke="#1b9fb5" stroke-width="1.9" stroke-linejoin="round" stroke-linecap="round" />
<path d="M307.6 173.6 L314.9 173.8 L316.4 180.5 L318.8 169.6 L320.5 169.3 L323.6 169.9 L327 170.8 L331 171.8 L338.5 173.6 L344.9 174.9 L347.2 175.6 L349.4 177.6 L350.8 179.8 L351.6 182.4 L352 190 L352.6 206 L369.8 160.07 L370.5 162.9 L371.3 165 L372.6 167.2 L374.5 168.8 L377.2 170.6 L380 171.3 L383.4 171.9 L389.6 172.6 L395.5 172.6 L397.4 170.6 L399 172.6 L403.6 173.7 L406.4 175.2 L407.6 179.9 L409.4 176 L412.6 169.9 L414.2 171 L417.3 172.4 L421 174.2 L424.8 175.5 L434.7 176.1 L438 176.6 L441.6 177.4 L444.1 180 L445.6 184.9 L446.4 189.2 L463 166.9 L463.7 168.2 L464.6 169.5 L466 170.5 L467.7 171.2 L470 171.9 L472.7 172.5 L477.7 173" fill="none" stroke="#d4143c" stroke-width="1.9" stroke-linejoin="round" stroke-linecap="round" />
<path d="M306.6 173.2 L314.9 173.6 L316.4 181.7 L318.9 167.6 L319.8 169.6 L321.7 171.8 L326 172.6 L332.3 173.4 L339.8 173.6 L341.6 171.8 L343.2 173.6 L350 173.8 L354.8 174.3 L356.6 175.2 L358 176.8 L359.6 181.1 L360.3 185.53 L367.2 167.04 L367.8 169.4 L368.5 171.2 L369.6 172.4 L371 173 L374 173.5 L377.2 173.7 L395 173.5 L406.6 173.6 L407.8 175.2 L408.6 176.8 L411.7 171.8 L412.8 172.6 L414.2 173.2 L425 173.6 L440 173.8 L447.8 174.2 L449.6 175 L451 176.1 L452.2 178.4 L452.9 180.1 L459.6 170.9 L460.4 171.8 L461.4 172.6 L462.8 173.1 L466 173.4 L477.9 173.6" fill="none" stroke="#f0831e" stroke-width="1.9" stroke-linejoin="round" stroke-linecap="round" />
<text x="308.6" y="239.8" font-size="10" text-anchor="middle" font-weight="normal" font-style="normal" fill="#1a1a1a" letter-spacing="0.2">50</text>
<text x="345.85" y="239.8" font-size="10" text-anchor="middle" font-weight="normal" font-style="normal" fill="#1a1a1a" letter-spacing="0.2">100</text>
<text x="383.1" y="239.8" font-size="10" text-anchor="middle" font-weight="normal" font-style="normal" fill="#1a1a1a" letter-spacing="0.2">150</text>
<text x="420.35" y="239.8" font-size="10" text-anchor="middle" font-weight="normal" font-style="normal" fill="#1a1a1a" letter-spacing="0.2">200</text>
<text x="457.6" y="239.8" font-size="10" text-anchor="middle" font-weight="normal" font-style="normal" fill="#1a1a1a" letter-spacing="0.2">250</text>
<text x="290.2" y="227.9" font-size="10" text-anchor="end" font-weight="normal" font-style="normal" fill="#1a1a1a" letter-spacing="0.2">100</text>
<text x="290.2" y="207.52" font-size="10" text-anchor="end" font-weight="normal" font-style="normal" fill="#1a1a1a" letter-spacing="0.2">110</text>
<text x="290.2" y="187.15" font-size="10" text-anchor="end" font-weight="normal" font-style="normal" fill="#1a1a1a" letter-spacing="0.2">120</text>
<text x="290.2" y="166.77" font-size="10" text-anchor="end" font-weight="normal" font-style="normal" fill="#1a1a1a" letter-spacing="0.2">130</text>
<text x="290.2" y="146.4" font-size="10" text-anchor="end" font-weight="normal" font-style="normal" fill="#1a1a1a" letter-spacing="0.2">140</text>
<text x="388.3" y="255.6" font-size="10.4" text-anchor="middle" font-weight="normal" font-style="normal" fill="#1a1a1a"  textLength="91.5" lengthAdjust="spacing">Division time [min]</text>
<text x="261.3" y="184" font-size="10.4" text-anchor="middle" font-weight="normal" font-style="normal" fill="#1a1a1a" transform="rotate(-90 261.3 184)"  textLength="70.8" lengthAdjust="spacing">PtP time [min]</text>
<text x="250.6" y="141" font-size="12.4" text-anchor="start" font-weight="bold" font-style="normal" fill="#1a1a1a" >E</text>
<text x="365.3" y="185.9" font-size="8.2" font-style="italic" fill="#1a1a1a" textLength="6.6" lengthAdjust="spacingAndGlyphs">Δ</text>
<text x="372.8" y="185.9" font-size="8.2" text-anchor="start" font-weight="normal" font-style="italic" fill="#1a1a1a" >t</text>
<text x="376.1" y="187.6" font-size="6.4" text-anchor="start" font-weight="normal" font-style="normal" fill="#1a1a1a"  textLength="8.6" lengthAdjust="spacing">1,2</text>
<text x="388.2" y="185.9" font-size="8.2" text-anchor="start" font-weight="normal" font-style="normal" fill="#1a1a1a" >=</text>
<text x="422" y="185.9" font-size="8.2" text-anchor="start" font-weight="normal" font-style="normal" fill="#1a1a1a" >=</text>
<text x="398.6" y="185.9" font-size="8.2" font-style="italic" fill="#1a1a1a" textLength="6.6" lengthAdjust="spacingAndGlyphs">Δ</text>
<text x="406.1" y="185.9" font-size="8.2" text-anchor="start" font-weight="normal" font-style="italic" fill="#1a1a1a" >t</text>
<text x="409.4" y="187.6" font-size="6.4" text-anchor="start" font-weight="normal" font-style="normal" fill="#1a1a1a"  textLength="8.6" lengthAdjust="spacing">2,3</text>
<text x="371" y="196.5" font-size="8.2" fill="#1a1a1a" textLength="5.2" lengthAdjust="spacingAndGlyphs">−</text>
<text x="378.4" y="196.5" font-size="8.2" text-anchor="start" font-weight="normal" font-style="italic" fill="#1a1a1a" >T</text>
<text x="384" y="198.2" font-size="6.4" text-anchor="start" font-weight="normal" font-style="normal" fill="#1a1a1a"  textLength="8.6" lengthAdjust="spacing">rep</text>
<text x="394.5" y="196.5" font-size="8.2" text-anchor="start" font-weight="normal" font-style="normal" fill="#1a1a1a" >/</text>
<text x="399.1" y="196.5" font-size="8.2" text-anchor="start" font-weight="normal" font-style="normal" fill="#1a1a1a" >2</text>
<line x1="416" y1="193.8" x2="428.4" y2="193.8" stroke="#1b9fb5" stroke-width="1.9" />
<text x="371" y="207" font-size="8.2" fill="#1a1a1a" textLength="5.2" lengthAdjust="spacingAndGlyphs">−</text>
<text x="378.4" y="207" font-size="8.2" text-anchor="start" font-weight="normal" font-style="italic" fill="#1a1a1a" >T</text>
<text x="384" y="208.7" font-size="6.4" text-anchor="start" font-weight="normal" font-style="normal" fill="#1a1a1a"  textLength="8.6" lengthAdjust="spacing">rep</text>
<text x="394.5" y="207" font-size="8.2" text-anchor="start" font-weight="normal" font-style="normal" fill="#1a1a1a" >/</text>
<text x="399.1" y="207" font-size="8.2" text-anchor="start" font-weight="normal" font-style="normal" fill="#1a1a1a" >4</text>
<line x1="416" y1="204.5" x2="428.4" y2="204.5" stroke="#d4143c" stroke-width="1.9" />
<text x="371" y="217.7" font-size="8.2" fill="#1a1a1a" textLength="5.2" lengthAdjust="spacingAndGlyphs">−</text>
<text x="378.4" y="217.7" font-size="8.2" text-anchor="start" font-weight="normal" font-style="italic" fill="#1a1a1a" >T</text>
<text x="384" y="219.4" font-size="6.4" text-anchor="start" font-weight="normal" font-style="normal" fill="#1a1a1a"  textLength="8.6" lengthAdjust="spacing">rep</text>
<text x="394.5" y="217.7" font-size="8.2" text-anchor="start" font-weight="normal" font-style="normal" fill="#1a1a1a" >/</text>
<text x="399.1" y="217.7" font-size="8.2" text-anchor="start" font-weight="normal" font-style="normal" fill="#1a1a1a" >14</text>
<line x1="416" y1="216" x2="428.4" y2="216" stroke="#f0831e" stroke-width="1.9" />
</svg></body></html>
